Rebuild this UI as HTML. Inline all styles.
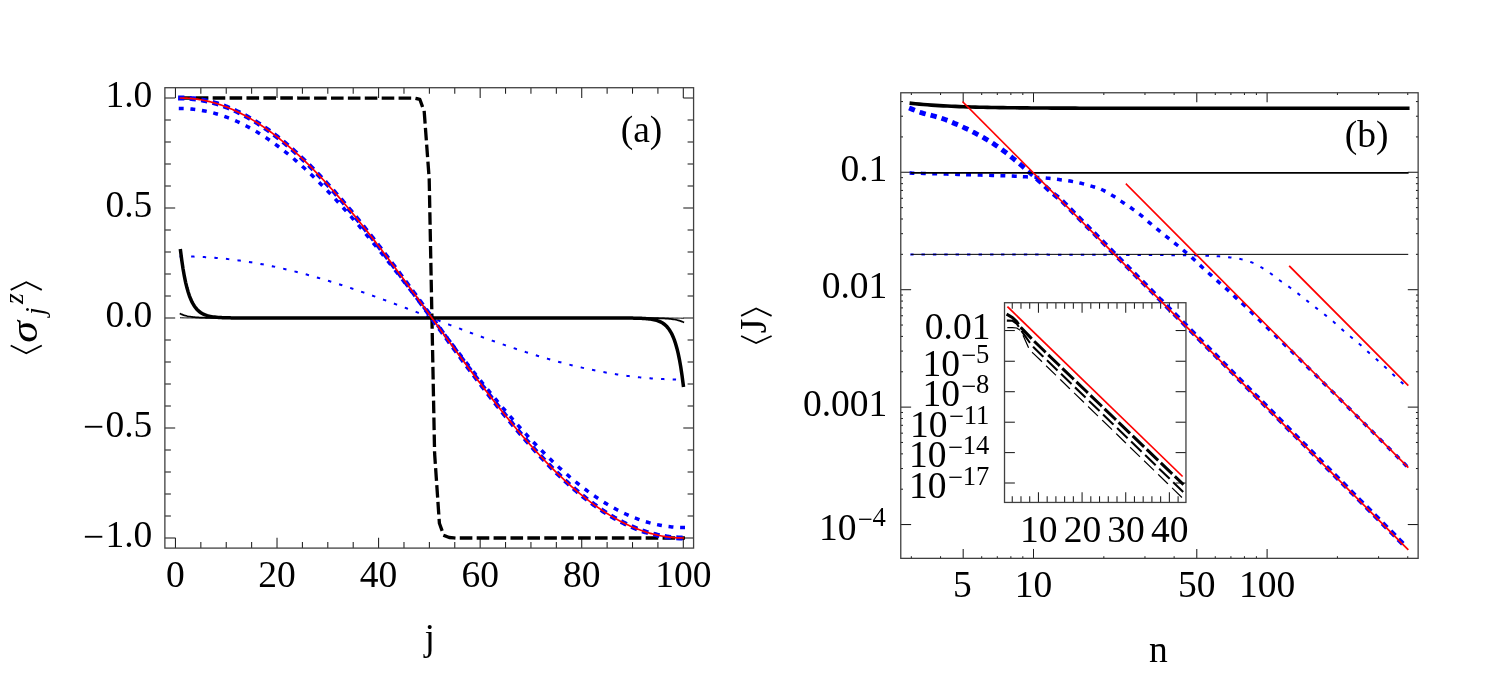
<!DOCTYPE html>
<html lang="en">
<head>
<meta charset="utf-8">
<title>Figure: magnetization profiles and spin current</title>
<style>
html,body{margin:0;padding:0;background:#ffffff;}
body{width:1495px;height:688px;overflow:hidden;font-family:"Liberation Serif",serif;}
svg{display:block;will-change:transform;}
svg text{font-family:"Liberation Serif",serif;fill:#000000;}
</style>
</head>
<body>
<svg width="1495" height="688" viewBox="0 0 1495 688">
<rect x="0" y="0" width="1495" height="688" fill="#ffffff"/>
<line x1="175.45" y1="548.1" x2="175.45" y2="537.8" stroke="#1c1c1c" stroke-width="1.05"/>
<line x1="175.45" y1="87.72" x2="175.45" y2="98.02" stroke="#1c1c1c" stroke-width="1.05"/>
<line x1="200.84" y1="548.1" x2="200.84" y2="542.1" stroke="#1c1c1c" stroke-width="1.05"/>
<line x1="200.84" y1="87.72" x2="200.84" y2="93.72" stroke="#1c1c1c" stroke-width="1.05"/>
<line x1="226.23" y1="548.1" x2="226.23" y2="542.1" stroke="#1c1c1c" stroke-width="1.05"/>
<line x1="226.23" y1="87.72" x2="226.23" y2="93.72" stroke="#1c1c1c" stroke-width="1.05"/>
<line x1="251.63" y1="548.1" x2="251.63" y2="542.1" stroke="#1c1c1c" stroke-width="1.05"/>
<line x1="251.63" y1="87.72" x2="251.63" y2="93.72" stroke="#1c1c1c" stroke-width="1.05"/>
<line x1="277.02" y1="548.1" x2="277.02" y2="537.8" stroke="#1c1c1c" stroke-width="1.05"/>
<line x1="277.02" y1="87.72" x2="277.02" y2="98.02" stroke="#1c1c1c" stroke-width="1.05"/>
<line x1="302.41" y1="548.1" x2="302.41" y2="542.1" stroke="#1c1c1c" stroke-width="1.05"/>
<line x1="302.41" y1="87.72" x2="302.41" y2="93.72" stroke="#1c1c1c" stroke-width="1.05"/>
<line x1="327.8" y1="548.1" x2="327.8" y2="542.1" stroke="#1c1c1c" stroke-width="1.05"/>
<line x1="327.8" y1="87.72" x2="327.8" y2="93.72" stroke="#1c1c1c" stroke-width="1.05"/>
<line x1="353.2" y1="548.1" x2="353.2" y2="542.1" stroke="#1c1c1c" stroke-width="1.05"/>
<line x1="353.2" y1="87.72" x2="353.2" y2="93.72" stroke="#1c1c1c" stroke-width="1.05"/>
<line x1="378.59" y1="548.1" x2="378.59" y2="537.8" stroke="#1c1c1c" stroke-width="1.05"/>
<line x1="378.59" y1="87.72" x2="378.59" y2="98.02" stroke="#1c1c1c" stroke-width="1.05"/>
<line x1="403.98" y1="548.1" x2="403.98" y2="542.1" stroke="#1c1c1c" stroke-width="1.05"/>
<line x1="403.98" y1="87.72" x2="403.98" y2="93.72" stroke="#1c1c1c" stroke-width="1.05"/>
<line x1="429.38" y1="548.1" x2="429.38" y2="542.1" stroke="#1c1c1c" stroke-width="1.05"/>
<line x1="429.38" y1="87.72" x2="429.38" y2="93.72" stroke="#1c1c1c" stroke-width="1.05"/>
<line x1="454.77" y1="548.1" x2="454.77" y2="542.1" stroke="#1c1c1c" stroke-width="1.05"/>
<line x1="454.77" y1="87.72" x2="454.77" y2="93.72" stroke="#1c1c1c" stroke-width="1.05"/>
<line x1="480.16" y1="548.1" x2="480.16" y2="537.8" stroke="#1c1c1c" stroke-width="1.05"/>
<line x1="480.16" y1="87.72" x2="480.16" y2="98.02" stroke="#1c1c1c" stroke-width="1.05"/>
<line x1="505.55" y1="548.1" x2="505.55" y2="542.1" stroke="#1c1c1c" stroke-width="1.05"/>
<line x1="505.55" y1="87.72" x2="505.55" y2="93.72" stroke="#1c1c1c" stroke-width="1.05"/>
<line x1="530.94" y1="548.1" x2="530.94" y2="542.1" stroke="#1c1c1c" stroke-width="1.05"/>
<line x1="530.94" y1="87.72" x2="530.94" y2="93.72" stroke="#1c1c1c" stroke-width="1.05"/>
<line x1="556.34" y1="548.1" x2="556.34" y2="542.1" stroke="#1c1c1c" stroke-width="1.05"/>
<line x1="556.34" y1="87.72" x2="556.34" y2="93.72" stroke="#1c1c1c" stroke-width="1.05"/>
<line x1="581.73" y1="548.1" x2="581.73" y2="537.8" stroke="#1c1c1c" stroke-width="1.05"/>
<line x1="581.73" y1="87.72" x2="581.73" y2="98.02" stroke="#1c1c1c" stroke-width="1.05"/>
<line x1="607.12" y1="548.1" x2="607.12" y2="542.1" stroke="#1c1c1c" stroke-width="1.05"/>
<line x1="607.12" y1="87.72" x2="607.12" y2="93.72" stroke="#1c1c1c" stroke-width="1.05"/>
<line x1="632.51" y1="548.1" x2="632.51" y2="542.1" stroke="#1c1c1c" stroke-width="1.05"/>
<line x1="632.51" y1="87.72" x2="632.51" y2="93.72" stroke="#1c1c1c" stroke-width="1.05"/>
<line x1="657.91" y1="548.1" x2="657.91" y2="542.1" stroke="#1c1c1c" stroke-width="1.05"/>
<line x1="657.91" y1="87.72" x2="657.91" y2="93.72" stroke="#1c1c1c" stroke-width="1.05"/>
<line x1="683.3" y1="548.1" x2="683.3" y2="537.8" stroke="#1c1c1c" stroke-width="1.05"/>
<line x1="683.3" y1="87.72" x2="683.3" y2="98.02" stroke="#1c1c1c" stroke-width="1.05"/>
<line x1="164.88" y1="538" x2="175.18" y2="538" stroke="#1c1c1c" stroke-width="1.05"/>
<line x1="693.58" y1="538" x2="683.28" y2="538" stroke="#1c1c1c" stroke-width="1.05"/>
<line x1="164.88" y1="516" x2="170.88" y2="516" stroke="#1c1c1c" stroke-width="1.05"/>
<line x1="693.58" y1="516" x2="687.58" y2="516" stroke="#1c1c1c" stroke-width="1.05"/>
<line x1="164.88" y1="494" x2="170.88" y2="494" stroke="#1c1c1c" stroke-width="1.05"/>
<line x1="693.58" y1="494" x2="687.58" y2="494" stroke="#1c1c1c" stroke-width="1.05"/>
<line x1="164.88" y1="472" x2="170.88" y2="472" stroke="#1c1c1c" stroke-width="1.05"/>
<line x1="693.58" y1="472" x2="687.58" y2="472" stroke="#1c1c1c" stroke-width="1.05"/>
<line x1="164.88" y1="450" x2="170.88" y2="450" stroke="#1c1c1c" stroke-width="1.05"/>
<line x1="693.58" y1="450" x2="687.58" y2="450" stroke="#1c1c1c" stroke-width="1.05"/>
<line x1="164.88" y1="428" x2="175.18" y2="428" stroke="#1c1c1c" stroke-width="1.05"/>
<line x1="693.58" y1="428" x2="683.28" y2="428" stroke="#1c1c1c" stroke-width="1.05"/>
<line x1="164.88" y1="406" x2="170.88" y2="406" stroke="#1c1c1c" stroke-width="1.05"/>
<line x1="693.58" y1="406" x2="687.58" y2="406" stroke="#1c1c1c" stroke-width="1.05"/>
<line x1="164.88" y1="384" x2="170.88" y2="384" stroke="#1c1c1c" stroke-width="1.05"/>
<line x1="693.58" y1="384" x2="687.58" y2="384" stroke="#1c1c1c" stroke-width="1.05"/>
<line x1="164.88" y1="362" x2="170.88" y2="362" stroke="#1c1c1c" stroke-width="1.05"/>
<line x1="693.58" y1="362" x2="687.58" y2="362" stroke="#1c1c1c" stroke-width="1.05"/>
<line x1="164.88" y1="340" x2="170.88" y2="340" stroke="#1c1c1c" stroke-width="1.05"/>
<line x1="693.58" y1="340" x2="687.58" y2="340" stroke="#1c1c1c" stroke-width="1.05"/>
<line x1="164.88" y1="318" x2="175.18" y2="318" stroke="#1c1c1c" stroke-width="1.05"/>
<line x1="693.58" y1="318" x2="683.28" y2="318" stroke="#1c1c1c" stroke-width="1.05"/>
<line x1="164.88" y1="296" x2="170.88" y2="296" stroke="#1c1c1c" stroke-width="1.05"/>
<line x1="693.58" y1="296" x2="687.58" y2="296" stroke="#1c1c1c" stroke-width="1.05"/>
<line x1="164.88" y1="274" x2="170.88" y2="274" stroke="#1c1c1c" stroke-width="1.05"/>
<line x1="693.58" y1="274" x2="687.58" y2="274" stroke="#1c1c1c" stroke-width="1.05"/>
<line x1="164.88" y1="252" x2="170.88" y2="252" stroke="#1c1c1c" stroke-width="1.05"/>
<line x1="693.58" y1="252" x2="687.58" y2="252" stroke="#1c1c1c" stroke-width="1.05"/>
<line x1="164.88" y1="230" x2="170.88" y2="230" stroke="#1c1c1c" stroke-width="1.05"/>
<line x1="693.58" y1="230" x2="687.58" y2="230" stroke="#1c1c1c" stroke-width="1.05"/>
<line x1="164.88" y1="208" x2="175.18" y2="208" stroke="#1c1c1c" stroke-width="1.05"/>
<line x1="693.58" y1="208" x2="683.28" y2="208" stroke="#1c1c1c" stroke-width="1.05"/>
<line x1="164.88" y1="186" x2="170.88" y2="186" stroke="#1c1c1c" stroke-width="1.05"/>
<line x1="693.58" y1="186" x2="687.58" y2="186" stroke="#1c1c1c" stroke-width="1.05"/>
<line x1="164.88" y1="164" x2="170.88" y2="164" stroke="#1c1c1c" stroke-width="1.05"/>
<line x1="693.58" y1="164" x2="687.58" y2="164" stroke="#1c1c1c" stroke-width="1.05"/>
<line x1="164.88" y1="142" x2="170.88" y2="142" stroke="#1c1c1c" stroke-width="1.05"/>
<line x1="693.58" y1="142" x2="687.58" y2="142" stroke="#1c1c1c" stroke-width="1.05"/>
<line x1="164.88" y1="120" x2="170.88" y2="120" stroke="#1c1c1c" stroke-width="1.05"/>
<line x1="693.58" y1="120" x2="687.58" y2="120" stroke="#1c1c1c" stroke-width="1.05"/>
<line x1="164.88" y1="98" x2="175.18" y2="98" stroke="#1c1c1c" stroke-width="1.05"/>
<line x1="693.58" y1="98" x2="683.28" y2="98" stroke="#1c1c1c" stroke-width="1.05"/>
<rect x="164.88" y="87.72" width="528.7" height="460.38" fill="none" stroke="#404040" stroke-width="1.3"/>
<path d="M180.53 98 L414.1 98.05 L419.8 99.3 L424.2 111.4 L429.2 179 L431.94 318" fill="none" stroke="#000000" stroke-width="3.3" stroke-dasharray="9.3 7.6" stroke-linecap="square" stroke-linejoin="round"/>
<path d="M431.94 318 L434.6 453.2 L439.4 523.3 L443.8 535.4 L449.2 537.5 L454.6 538 L683.3 538" fill="none" stroke="#000000" stroke-width="3.3" stroke-dasharray="9.3 7.6" stroke-linecap="square" stroke-linejoin="round" stroke-dashoffset="0.19"/>
<path d="M180.53 256.4 L181.8 256.4 L183.07 256.41 L184.34 256.42 L185.61 256.43 L186.88 256.45 L188.15 256.47 L189.42 256.49 L190.69 256.52 L191.96 256.56 L193.22 256.59 L194.49 256.63 L195.76 256.68 L197.03 256.73 L198.3 256.78 L199.57 256.84 L200.84 256.9 L202.11 256.96 L203.38 257.03 L204.65 257.1 L205.92 257.17 L207.19 257.25 L208.46 257.34 L209.73 257.42 L211 257.51 L212.27 257.61 L213.54 257.71 L214.81 257.81 L216.08 257.91 L217.35 258.02 L218.62 258.14 L219.89 258.25 L221.16 258.37 L222.43 258.5 L223.7 258.63 L224.97 258.76 L226.23 258.9 L227.5 259.03 L228.77 259.18 L230.04 259.32 L231.31 259.48 L232.58 259.63 L233.85 259.79 L235.12 259.95 L236.39 260.11 L237.66 260.28 L238.93 260.46 L240.2 260.63 L241.47 260.81 L242.74 261 L244.01 261.18 L245.28 261.37 L246.55 261.57 L247.82 261.77 L249.09 261.97 L250.36 262.17 L251.63 262.38 L252.9 262.59 L254.17 262.81 L255.44 263.03 L256.71 263.25 L257.98 263.47 L259.25 263.7 L260.51 263.93 L261.78 264.17 L263.05 264.41 L264.32 264.65 L265.59 264.9 L266.86 265.15 L268.13 265.4 L269.4 265.66 L270.67 265.92 L271.94 266.18 L273.21 266.44 L274.48 266.71 L275.75 266.99 L277.02 267.26 L278.29 267.54 L279.56 267.82 L280.83 268.11 L282.1 268.4 L283.37 268.69 L284.64 268.98 L285.91 269.28 L287.18 269.58 L288.45 269.88 L289.72 270.19 L290.99 270.5 L292.26 270.81 L293.53 271.13 L294.79 271.45 L296.06 271.77 L297.33 272.09 L298.6 272.42 L299.87 272.75 L301.14 273.08 L302.41 273.42 L303.68 273.76 L304.95 274.1 L306.22 274.44 L307.49 274.79 L308.76 275.14 L310.03 275.49 L311.3 275.85 L312.57 276.2 L313.84 276.56 L315.11 276.93 L316.38 277.29 L317.65 277.66 L318.92 278.03 L320.19 278.4 L321.46 278.78 L322.73 279.16 L324 279.54 L325.27 279.92 L326.54 280.31 L327.8 280.69 L329.07 281.08 L330.34 281.48 L331.61 281.87 L332.88 282.27 L334.15 282.67 L335.42 283.07 L336.69 283.47 L337.96 283.88 L339.23 284.29 L340.5 284.7 L341.77 285.11 L343.04 285.52 L344.31 285.94 L345.58 286.36 L346.85 286.78 L348.12 287.2 L349.39 287.62 L350.66 288.05 L351.93 288.48 L353.2 288.91 L354.47 289.34 L355.74 289.77 L357.01 290.21 L358.28 290.65 L359.55 291.08 L360.82 291.52 L362.08 291.97 L363.35 292.41 L364.62 292.86 L365.89 293.3 L367.16 293.75 L368.43 294.2 L369.7 294.65 L370.97 295.11 L372.24 295.56 L373.51 296.02 L374.78 296.47 L376.05 296.93 L377.32 297.39 L378.59 297.85 L379.86 298.32 L381.13 298.78 L382.4 299.24 L383.67 299.71 L384.94 300.18 L386.21 300.65 L387.48 301.11 L388.75 301.59 L390.02 302.06 L391.29 302.53 L392.56 303 L393.83 303.48 L395.1 303.95 L396.36 304.43 L397.63 304.91 L398.9 305.38 L400.17 305.86 L401.44 306.34 L402.71 306.82 L403.98 307.3 L405.25 307.78 L406.52 308.27 L407.79 308.75 L409.06 309.23 L410.33 309.72 L411.6 310.2 L412.87 310.69 L414.14 311.17 L415.41 311.66 L416.68 312.14 L417.95 312.63 L419.22 313.12 L420.49 313.61 L421.76 314.09 L423.03 314.58 L424.3 315.07 L425.57 315.56 L426.84 316.05 L428.11 316.53 L429.38 317.02 L430.64 317.51 L431.91 318 L433.18 318.49 L434.45 318.98 L435.72 319.47 L436.99 319.95 L438.26 320.44 L439.53 320.93 L440.8 321.42 L442.07 321.91 L443.34 322.39 L444.61 322.88 L445.88 323.37 L447.15 323.86 L448.42 324.34 L449.69 324.83 L450.96 325.31 L452.23 325.8 L453.5 326.28 L454.77 326.77 L456.04 327.25 L457.31 327.73 L458.58 328.22 L459.85 328.7 L461.12 329.18 L462.39 329.66 L463.65 330.14 L464.92 330.62 L466.19 331.09 L467.46 331.57 L468.73 332.05 L470 332.52 L471.27 333 L472.54 333.47 L473.81 333.94 L475.08 334.41 L476.35 334.89 L477.62 335.35 L478.89 335.82 L480.16 336.29 L481.43 336.76 L482.7 337.22 L483.97 337.68 L485.24 338.15 L486.51 338.61 L487.78 339.07 L489.05 339.53 L490.32 339.98 L491.59 340.44 L492.86 340.89 L494.13 341.35 L495.4 341.8 L496.67 342.25 L497.93 342.7 L499.2 343.14 L500.47 343.59 L501.74 344.03 L503.01 344.48 L504.28 344.92 L505.55 345.35 L506.82 345.79 L508.09 346.23 L509.36 346.66 L510.63 347.09 L511.9 347.52 L513.17 347.95 L514.44 348.38 L515.71 348.8 L516.98 349.22 L518.25 349.64 L519.52 350.06 L520.79 350.48 L522.06 350.89 L523.33 351.3 L524.6 351.71 L525.87 352.12 L527.14 352.53 L528.41 352.93 L529.68 353.33 L530.94 353.73 L532.21 354.13 L533.48 354.52 L534.75 354.92 L536.02 355.31 L537.29 355.69 L538.56 356.08 L539.83 356.46 L541.1 356.84 L542.37 357.22 L543.64 357.6 L544.91 357.97 L546.18 358.34 L547.45 358.71 L548.72 359.07 L549.99 359.44 L551.26 359.8 L552.53 360.15 L553.8 360.51 L555.07 360.86 L556.34 361.21 L557.61 361.56 L558.88 361.9 L560.15 362.24 L561.42 362.58 L562.69 362.92 L563.96 363.25 L565.22 363.58 L566.49 363.91 L567.76 364.23 L569.03 364.55 L570.3 364.87 L571.57 365.19 L572.84 365.5 L574.11 365.81 L575.38 366.12 L576.65 366.42 L577.92 366.72 L579.19 367.02 L580.46 367.31 L581.73 367.6 L583 367.89 L584.27 368.18 L585.54 368.46 L586.81 368.74 L588.08 369.01 L589.35 369.29 L590.62 369.56 L591.89 369.82 L593.16 370.08 L594.43 370.34 L595.7 370.6 L596.97 370.85 L598.24 371.1 L599.5 371.35 L600.77 371.59 L602.04 371.83 L603.31 372.07 L604.58 372.3 L605.85 372.53 L607.12 372.75 L608.39 372.97 L609.66 373.19 L610.93 373.41 L612.2 373.62 L613.47 373.83 L614.74 374.03 L616.01 374.23 L617.28 374.43 L618.55 374.63 L619.82 374.82 L621.09 375 L622.36 375.19 L623.63 375.37 L624.9 375.54 L626.17 375.72 L627.44 375.89 L628.71 376.05 L629.98 376.21 L631.25 376.37 L632.51 376.52 L633.78 376.68 L635.05 376.82 L636.32 376.97 L637.59 377.1 L638.86 377.24 L640.13 377.37 L641.4 377.5 L642.67 377.63 L643.94 377.75 L645.21 377.86 L646.48 377.98 L647.75 378.09 L649.02 378.19 L650.29 378.29 L651.56 378.39 L652.83 378.49 L654.1 378.58 L655.37 378.66 L656.64 378.75 L657.91 378.83 L659.18 378.9 L660.45 378.97 L661.72 379.04 L662.99 379.1 L664.26 379.16 L665.53 379.22 L666.79 379.27 L668.06 379.32 L669.33 379.37 L670.6 379.41 L671.87 379.44 L673.14 379.48 L674.41 379.51 L675.68 379.53 L676.95 379.55 L678.22 379.57 L679.49 379.58 L680.76 379.59 L682.03 379.6 L683.3 379.6" fill="none" stroke="#0000ff" stroke-width="2" stroke-dasharray="1.4 10.22" stroke-linecap="square"/>
<path d="M180.53 108.56 L181.8 108.57 L183.07 108.59 L184.34 108.62 L185.61 108.67 L186.88 108.72 L188.15 108.8 L189.42 108.88 L190.69 108.98 L191.96 109.09 L193.22 109.22 L194.49 109.36 L195.76 109.51 L197.03 109.67 L198.3 109.85 L199.57 110.04 L200.84 110.24 L202.11 110.46 L203.38 110.69 L204.65 110.93 L205.92 111.19 L207.19 111.46 L208.46 111.74 L209.73 112.04 L211 112.34 L212.27 112.67 L213.54 113 L214.81 113.35 L216.08 113.71 L217.35 114.08 L218.62 114.46 L219.89 114.86 L221.16 115.27 L222.43 115.7 L223.7 116.13 L224.97 116.58 L226.23 117.04 L227.5 117.52 L228.77 118.01 L230.04 118.5 L231.31 119.02 L232.58 119.54 L233.85 120.08 L235.12 120.63 L236.39 121.19 L237.66 121.77 L238.93 122.35 L240.2 122.95 L241.47 123.56 L242.74 124.19 L244.01 124.82 L245.28 125.47 L246.55 126.13 L247.82 126.8 L249.09 127.49 L250.36 128.18 L251.63 128.89 L252.9 129.61 L254.17 130.34 L255.44 131.09 L256.71 131.84 L257.98 132.61 L259.25 133.39 L260.51 134.18 L261.78 134.98 L263.05 135.79 L264.32 136.62 L265.59 137.46 L266.86 138.3 L268.13 139.16 L269.4 140.03 L270.67 140.92 L271.94 141.81 L273.21 142.71 L274.48 143.63 L275.75 144.55 L277.02 145.49 L278.29 146.44 L279.56 147.4 L280.83 148.36 L282.1 149.34 L283.37 150.33 L284.64 151.34 L285.91 152.35 L287.18 153.37 L288.45 154.4 L289.72 155.44 L290.99 156.5 L292.26 157.56 L293.53 158.63 L294.79 159.72 L296.06 160.81 L297.33 161.91 L298.6 163.02 L299.87 164.15 L301.14 165.28 L302.41 166.42 L303.68 167.57 L304.95 168.73 L306.22 169.9 L307.49 171.08 L308.76 172.27 L310.03 173.47 L311.3 174.68 L312.57 175.89 L313.84 177.12 L315.11 178.35 L316.38 179.59 L317.65 180.85 L318.92 182.11 L320.19 183.37 L321.46 184.65 L322.73 185.94 L324 187.23 L325.27 188.53 L326.54 189.84 L327.8 191.16 L329.07 192.49 L330.34 193.82 L331.61 195.16 L332.88 196.51 L334.15 197.87 L335.42 199.23 L336.69 200.61 L337.96 201.99 L339.23 203.37 L340.5 204.77 L341.77 206.17 L343.04 207.58 L344.31 208.99 L345.58 210.42 L346.85 211.84 L348.12 213.28 L349.39 214.72 L350.66 216.17 L351.93 217.63 L353.2 219.09 L354.47 220.56 L355.74 222.03 L357.01 223.51 L358.28 224.99 L359.55 226.49 L360.82 227.98 L362.08 229.49 L363.35 231 L364.62 232.51 L365.89 234.03 L367.16 235.55 L368.43 237.08 L369.7 238.62 L370.97 240.16 L372.24 241.7 L373.51 243.25 L374.78 244.81 L376.05 246.37 L377.32 247.93 L378.59 249.5 L379.86 251.07 L381.13 252.65 L382.4 254.23 L383.67 255.81 L384.94 257.4 L386.21 258.99 L387.48 260.59 L388.75 262.19 L390.02 263.79 L391.29 265.4 L392.56 267.01 L393.83 268.62 L395.1 270.24 L396.36 271.86 L397.63 273.48 L398.9 275.11 L400.17 276.73 L401.44 278.36 L402.71 280 L403.98 281.63 L405.25 283.27 L406.52 284.91 L407.79 286.55 L409.06 288.19 L410.33 289.84 L411.6 291.49 L412.87 293.14 L414.14 294.79 L415.41 296.44 L416.68 298.09 L417.95 299.75 L419.22 301.4 L420.49 303.06 L421.76 304.72 L423.03 306.38 L424.3 308.03 L425.57 309.69 L426.84 311.35 L428.11 313.02 L429.38 314.68 L430.64 316.34 L431.91 318 L433.18 319.66 L434.45 321.32 L435.72 322.98 L436.99 324.65 L438.26 326.31 L439.53 327.97 L440.8 329.62 L442.07 331.28 L443.34 332.94 L444.61 334.6 L445.88 336.25 L447.15 337.91 L448.42 339.56 L449.69 341.21 L450.96 342.86 L452.23 344.51 L453.5 346.16 L454.77 347.81 L456.04 349.45 L457.31 351.09 L458.58 352.73 L459.85 354.37 L461.12 356 L462.39 357.64 L463.65 359.27 L464.92 360.89 L466.19 362.52 L467.46 364.14 L468.73 365.76 L470 367.38 L471.27 368.99 L472.54 370.6 L473.81 372.21 L475.08 373.81 L476.35 375.41 L477.62 377.01 L478.89 378.6 L480.16 380.19 L481.43 381.77 L482.7 383.35 L483.97 384.93 L485.24 386.5 L486.51 388.07 L487.78 389.63 L489.05 391.19 L490.32 392.75 L491.59 394.3 L492.86 395.84 L494.13 397.38 L495.4 398.92 L496.67 400.45 L497.93 401.97 L499.2 403.49 L500.47 405 L501.74 406.51 L503.01 408.02 L504.28 409.51 L505.55 411.01 L506.82 412.49 L508.09 413.97 L509.36 415.44 L510.63 416.91 L511.9 418.37 L513.17 419.83 L514.44 421.28 L515.71 422.72 L516.98 424.16 L518.25 425.58 L519.52 427.01 L520.79 428.42 L522.06 429.83 L523.33 431.23 L524.6 432.63 L525.87 434.01 L527.14 435.39 L528.41 436.77 L529.68 438.13 L530.94 439.49 L532.21 440.84 L533.48 442.18 L534.75 443.51 L536.02 444.84 L537.29 446.16 L538.56 447.47 L539.83 448.77 L541.1 450.06 L542.37 451.35 L543.64 452.63 L544.91 453.89 L546.18 455.15 L547.45 456.41 L548.72 457.65 L549.99 458.88 L551.26 460.11 L552.53 461.32 L553.8 462.53 L555.07 463.73 L556.34 464.92 L557.61 466.1 L558.88 467.27 L560.15 468.43 L561.42 469.58 L562.69 470.72 L563.96 471.85 L565.22 472.98 L566.49 474.09 L567.76 475.19 L569.03 476.28 L570.3 477.37 L571.57 478.44 L572.84 479.5 L574.11 480.56 L575.38 481.6 L576.65 482.63 L577.92 483.65 L579.19 484.66 L580.46 485.67 L581.73 486.66 L583 487.64 L584.27 488.6 L585.54 489.56 L586.81 490.51 L588.08 491.45 L589.35 492.37 L590.62 493.29 L591.89 494.19 L593.16 495.08 L594.43 495.97 L595.7 496.84 L596.97 497.7 L598.24 498.54 L599.5 499.38 L600.77 500.21 L602.04 501.02 L603.31 501.82 L604.58 502.61 L605.85 503.39 L607.12 504.16 L608.39 504.91 L609.66 505.66 L610.93 506.39 L612.2 507.11 L613.47 507.82 L614.74 508.51 L616.01 509.2 L617.28 509.87 L618.55 510.53 L619.82 511.18 L621.09 511.81 L622.36 512.44 L623.63 513.05 L624.9 513.65 L626.17 514.23 L627.44 514.81 L628.71 515.37 L629.98 515.92 L631.25 516.46 L632.51 516.98 L633.78 517.5 L635.05 517.99 L636.32 518.48 L637.59 518.96 L638.86 519.42 L640.13 519.87 L641.4 520.3 L642.67 520.73 L643.94 521.14 L645.21 521.54 L646.48 521.92 L647.75 522.29 L649.02 522.65 L650.29 523 L651.56 523.33 L652.83 523.66 L654.1 523.96 L655.37 524.26 L656.64 524.54 L657.91 524.81 L659.18 525.07 L660.45 525.31 L661.72 525.54 L662.99 525.76 L664.26 525.96 L665.53 526.15 L666.79 526.33 L668.06 526.49 L669.33 526.64 L670.6 526.78 L671.87 526.91 L673.14 527.02 L674.41 527.12 L675.68 527.2 L676.95 527.28 L678.22 527.33 L679.49 527.38 L680.76 527.41 L682.03 527.43 L683.3 527.44" fill="none" stroke="#0000ff" stroke-width="3.5" stroke-dasharray="1.4 10.22" stroke-linecap="square"/>
<path d="M180.53 98 L181.8 98.01 L183.07 98.03 L184.34 98.06 L185.61 98.11 L186.88 98.17 L188.15 98.25 L189.42 98.34 L190.69 98.44 L191.96 98.56 L193.22 98.69 L194.49 98.84 L195.76 99 L197.03 99.17 L198.3 99.36 L199.57 99.56 L200.84 99.77 L202.11 100 L203.38 100.24 L204.65 100.49 L205.92 100.76 L207.19 101.05 L208.46 101.34 L209.73 101.65 L211 101.98 L212.27 102.31 L213.54 102.66 L214.81 103.03 L216.08 103.41 L217.35 103.8 L218.62 104.2 L219.89 104.62 L221.16 105.05 L222.43 105.5 L223.7 105.95 L224.97 106.43 L226.23 106.91 L227.5 107.41 L228.77 107.92 L230.04 108.45 L231.31 108.98 L232.58 109.54 L233.85 110.1 L235.12 110.68 L236.39 111.27 L237.66 111.87 L238.93 112.49 L240.2 113.12 L241.47 113.76 L242.74 114.41 L244.01 115.08 L245.28 115.76 L246.55 116.46 L247.82 117.16 L249.09 117.88 L250.36 118.61 L251.63 119.36 L252.9 120.11 L254.17 120.88 L255.44 121.66 L256.71 122.46 L257.98 123.26 L259.25 124.08 L260.51 124.91 L261.78 125.75 L263.05 126.61 L264.32 127.47 L265.59 128.35 L266.86 129.24 L268.13 130.15 L269.4 131.06 L270.67 131.99 L271.94 132.92 L273.21 133.87 L274.48 134.83 L275.75 135.81 L277.02 136.79 L278.29 137.79 L279.56 138.79 L280.83 139.81 L282.1 140.84 L283.37 141.88 L284.64 142.93 L285.91 143.99 L287.18 145.07 L288.45 146.15 L289.72 147.25 L290.99 148.35 L292.26 149.47 L293.53 150.6 L294.79 151.74 L296.06 152.88 L297.33 154.04 L298.6 155.21 L299.87 156.39 L301.14 157.58 L302.41 158.78 L303.68 159.99 L304.95 161.21 L306.22 162.44 L307.49 163.68 L308.76 164.92 L310.03 166.18 L311.3 167.45 L312.57 168.73 L313.84 170.01 L315.11 171.31 L316.38 172.62 L317.65 173.93 L318.92 175.25 L320.19 176.59 L321.46 177.93 L322.73 179.28 L324 180.64 L325.27 182.01 L326.54 183.38 L327.8 184.77 L329.07 186.16 L330.34 187.56 L331.61 188.97 L332.88 190.39 L334.15 191.81 L335.42 193.25 L336.69 194.69 L337.96 196.14 L339.23 197.59 L340.5 199.06 L341.77 200.53 L343.04 202.01 L344.31 203.5 L345.58 204.99 L346.85 206.49 L348.12 208 L349.39 209.51 L350.66 211.04 L351.93 212.57 L353.2 214.1 L354.47 215.64 L355.74 217.19 L357.01 218.74 L358.28 220.31 L359.55 221.87 L360.82 223.45 L362.08 225.02 L363.35 226.61 L364.62 228.2 L365.89 229.8 L367.16 231.4 L368.43 233 L369.7 234.62 L370.97 236.23 L372.24 237.86 L373.51 239.49 L374.78 241.12 L376.05 242.76 L377.32 244.4 L378.59 246.05 L379.86 247.7 L381.13 249.35 L382.4 251.01 L383.67 252.68 L384.94 254.35 L386.21 256.02 L387.48 257.7 L388.75 259.38 L390.02 261.06 L391.29 262.75 L392.56 264.44 L393.83 266.13 L395.1 267.83 L396.36 269.53 L397.63 271.24 L398.9 272.94 L400.17 274.65 L401.44 276.36 L402.71 278.08 L403.98 279.8 L405.25 281.52 L406.52 283.24 L407.79 284.96 L409.06 286.69 L410.33 288.42 L411.6 290.15 L412.87 291.88 L414.14 293.62 L415.41 295.35 L416.68 297.09 L417.95 298.83 L419.22 300.57 L420.49 302.31 L421.76 304.05 L423.03 305.79 L424.3 307.53 L425.57 309.28 L426.84 311.02 L428.11 312.76 L429.38 314.51 L430.64 316.25 L431.91 318 L433.18 319.75 L434.45 321.49 L435.72 323.24 L436.99 324.98 L438.26 326.72 L439.53 328.47 L440.8 330.21 L442.07 331.95 L443.34 333.69 L444.61 335.43 L445.88 337.17 L447.15 338.91 L448.42 340.65 L449.69 342.38 L450.96 344.12 L452.23 345.85 L453.5 347.58 L454.77 349.31 L456.04 351.04 L457.31 352.76 L458.58 354.48 L459.85 356.2 L461.12 357.92 L462.39 359.64 L463.65 361.35 L464.92 363.06 L466.19 364.76 L467.46 366.47 L468.73 368.17 L470 369.87 L471.27 371.56 L472.54 373.25 L473.81 374.94 L475.08 376.62 L476.35 378.3 L477.62 379.98 L478.89 381.65 L480.16 383.32 L481.43 384.99 L482.7 386.65 L483.97 388.3 L485.24 389.95 L486.51 391.6 L487.78 393.24 L489.05 394.88 L490.32 396.51 L491.59 398.14 L492.86 399.77 L494.13 401.38 L495.4 403 L496.67 404.6 L497.93 406.2 L499.2 407.8 L500.47 409.39 L501.74 410.98 L503.01 412.55 L504.28 414.13 L505.55 415.69 L506.82 417.26 L508.09 418.81 L509.36 420.36 L510.63 421.9 L511.9 423.43 L513.17 424.96 L514.44 426.49 L515.71 428 L516.98 429.51 L518.25 431.01 L519.52 432.5 L520.79 433.99 L522.06 435.47 L523.33 436.94 L524.6 438.41 L525.87 439.86 L527.14 441.31 L528.41 442.75 L529.68 444.19 L530.94 445.61 L532.21 447.03 L533.48 448.44 L534.75 449.84 L536.02 451.23 L537.29 452.62 L538.56 453.99 L539.83 455.36 L541.1 456.72 L542.37 458.07 L543.64 459.41 L544.91 460.75 L546.18 462.07 L547.45 463.38 L548.72 464.69 L549.99 465.99 L551.26 467.27 L552.53 468.55 L553.8 469.82 L555.07 471.08 L556.34 472.32 L557.61 473.56 L558.88 474.79 L560.15 476.01 L561.42 477.22 L562.69 478.42 L563.96 479.61 L565.22 480.79 L566.49 481.96 L567.76 483.12 L569.03 484.26 L570.3 485.4 L571.57 486.53 L572.84 487.65 L574.11 488.75 L575.38 489.85 L576.65 490.93 L577.92 492.01 L579.19 493.07 L580.46 494.12 L581.73 495.16 L583 496.19 L584.27 497.21 L585.54 498.21 L586.81 499.21 L588.08 500.19 L589.35 501.17 L590.62 502.13 L591.89 503.08 L593.16 504.01 L594.43 504.94 L595.7 505.85 L596.97 506.76 L598.24 507.65 L599.5 508.53 L600.77 509.39 L602.04 510.25 L603.31 511.09 L604.58 511.92 L605.85 512.74 L607.12 513.54 L608.39 514.34 L609.66 515.12 L610.93 515.89 L612.2 516.64 L613.47 517.39 L614.74 518.12 L616.01 518.84 L617.28 519.54 L618.55 520.24 L619.82 520.92 L621.09 521.59 L622.36 522.24 L623.63 522.88 L624.9 523.51 L626.17 524.13 L627.44 524.73 L628.71 525.32 L629.98 525.9 L631.25 526.46 L632.51 527.02 L633.78 527.55 L635.05 528.08 L636.32 528.59 L637.59 529.09 L638.86 529.57 L640.13 530.05 L641.4 530.5 L642.67 530.95 L643.94 531.38 L645.21 531.8 L646.48 532.2 L647.75 532.59 L649.02 532.97 L650.29 533.34 L651.56 533.69 L652.83 534.02 L654.1 534.35 L655.37 534.66 L656.64 534.95 L657.91 535.24 L659.18 535.51 L660.45 535.76 L661.72 536 L662.99 536.23 L664.26 536.44 L665.53 536.64 L666.79 536.83 L668.06 537 L669.33 537.16 L670.6 537.31 L671.87 537.44 L673.14 537.56 L674.41 537.66 L675.68 537.75 L676.95 537.83 L678.22 537.89 L679.49 537.94 L680.76 537.97 L682.03 537.99 L683.3 538" fill="none" stroke="#0000ff" stroke-width="4.9" stroke-dasharray="1.4 10.22" stroke-linecap="square"/>
<path d="M180.53 317.78 L181.8 317.81 L183.07 317.84 L184.34 317.86 L185.61 317.88 L186.88 317.9 L188.15 317.91 L189.42 317.92 L190.69 317.93 L191.96 317.94 L193.22 317.95 L194.49 317.96 L195.76 317.96 L197.03 317.97 L198.3 317.97 L199.57 317.98 L200.84 317.98 L202.11 317.98 L203.38 317.99 L204.65 317.99 L205.92 317.99 L207.19 317.99 L208.46 317.99 L209.73 317.99 L211 317.99 L212.27 317.99 L213.54 318 L214.81 318 L216.08 318 L217.35 318 L218.62 318 L219.89 318 L221.16 318 L222.43 318 L223.7 318 L224.97 318 L226.23 318 L227.5 318 L228.77 318 L230.04 318 L231.31 318 L232.58 318 L233.85 318 L235.12 318 L236.39 318 L237.66 318 L238.93 318 L240.2 318 L241.47 318 L242.74 318 L244.01 318 L245.28 318 L246.55 318 L247.82 318 L249.09 318 L250.36 318 L251.63 318 L252.9 318 L254.17 318 L255.44 318 L256.71 318 L257.98 318 L259.25 318 L260.51 318 L261.78 318 L263.05 318 L264.32 318 L265.59 318 L266.86 318 L268.13 318 L269.4 318 L270.67 318 L271.94 318 L273.21 318 L274.48 318 L275.75 318 L277.02 318 L278.29 318 L279.56 318 L280.83 318 L282.1 318 L283.37 318 L284.64 318 L285.91 318 L287.18 318 L288.45 318 L289.72 318 L290.99 318 L292.26 318 L293.53 318 L294.79 318 L296.06 318 L297.33 318 L298.6 318 L299.87 318 L301.14 318 L302.41 318 L303.68 318 L304.95 318 L306.22 318 L307.49 318 L308.76 318 L310.03 318 L311.3 318 L312.57 318 L313.84 318 L315.11 318 L316.38 318 L317.65 318 L318.92 318 L320.19 318 L321.46 318 L322.73 318 L324 318 L325.27 318 L326.54 318 L327.8 318 L329.07 318 L330.34 318 L331.61 318 L332.88 318 L334.15 318 L335.42 318 L336.69 318 L337.96 318 L339.23 318 L340.5 318 L341.77 318 L343.04 318 L344.31 318 L345.58 318 L346.85 318 L348.12 318 L349.39 318 L350.66 318 L351.93 318 L353.2 318 L354.47 318 L355.74 318 L357.01 318 L358.28 318 L359.55 318 L360.82 318 L362.08 318 L363.35 318 L364.62 318 L365.89 318 L367.16 318 L368.43 318 L369.7 318 L370.97 318 L372.24 318 L373.51 318 L374.78 318 L376.05 318 L377.32 318 L378.59 318 L379.86 318 L381.13 318 L382.4 318 L383.67 318 L384.94 318 L386.21 318 L387.48 318 L388.75 318 L390.02 318 L391.29 318 L392.56 318 L393.83 318 L395.1 318 L396.36 318 L397.63 318 L398.9 318 L400.17 318 L401.44 318 L402.71 318 L403.98 318 L405.25 318 L406.52 318 L407.79 318 L409.06 318 L410.33 318 L411.6 318 L412.87 318 L414.14 318 L415.41 318 L416.68 318 L417.95 318 L419.22 318 L420.49 318 L421.76 318 L423.03 318 L424.3 318 L425.57 318 L426.84 318 L428.11 318 L429.38 318 L430.64 318 L431.91 318 L433.18 318 L434.45 318 L435.72 318 L436.99 318 L438.26 318 L439.53 318 L440.8 318 L442.07 318 L443.34 318 L444.61 318 L445.88 318 L447.15 318 L448.42 318 L449.69 318 L450.96 318 L452.23 318 L453.5 318 L454.77 318 L456.04 318 L457.31 318 L458.58 318 L459.85 318 L461.12 318 L462.39 318 L463.65 318 L464.92 318 L466.19 318 L467.46 318 L468.73 318 L470 318 L471.27 318 L472.54 318 L473.81 318 L475.08 318 L476.35 318 L477.62 318 L478.89 318 L480.16 318 L481.43 318 L482.7 318 L483.97 318 L485.24 318 L486.51 318 L487.78 318 L489.05 318 L490.32 318 L491.59 318 L492.86 318 L494.13 318 L495.4 318 L496.67 318 L497.93 318 L499.2 318 L500.47 318 L501.74 318 L503.01 318 L504.28 318 L505.55 318 L506.82 318 L508.09 318 L509.36 318 L510.63 318 L511.9 318 L513.17 318 L514.44 318 L515.71 318 L516.98 318 L518.25 318 L519.52 318 L520.79 318 L522.06 318 L523.33 318 L524.6 318 L525.87 318 L527.14 318 L528.41 318 L529.68 318 L530.94 318 L532.21 318 L533.48 318 L534.75 318 L536.02 318 L537.29 318 L538.56 318 L539.83 318 L541.1 318 L542.37 318 L543.64 318 L544.91 318 L546.18 318 L547.45 318 L548.72 318 L549.99 318 L551.26 318 L552.53 318 L553.8 318 L555.07 318 L556.34 318 L557.61 318 L558.88 318 L560.15 318 L561.42 318 L562.69 318 L563.96 318 L565.22 318 L566.49 318 L567.76 318 L569.03 318 L570.3 318 L571.57 318 L572.84 318 L574.11 318 L575.38 318 L576.65 318 L577.92 318 L579.19 318 L580.46 318 L581.73 318 L583 318 L584.27 318 L585.54 318 L586.81 318 L588.08 318 L589.35 318 L590.62 318 L591.89 318 L593.16 318 L594.43 318 L595.7 318 L596.97 318 L598.24 318 L599.5 318 L600.77 318 L602.04 318 L603.31 318 L604.58 318 L605.85 318 L607.12 318 L608.39 318 L609.66 318 L610.93 318 L612.2 318 L613.47 318 L614.74 318 L616.01 318 L617.28 318 L618.55 318 L619.82 318 L621.09 318 L622.36 318 L623.63 318 L624.9 318 L626.17 318 L627.44 318 L628.71 318 L629.98 318 L631.25 318 L632.51 318 L633.78 318 L635.05 318 L636.32 318 L637.59 318 L638.86 318 L640.13 318 L641.4 318 L642.67 318 L643.94 318 L645.21 318 L646.48 318 L647.75 318 L649.02 318 L650.29 318 L651.56 318.01 L652.83 318.01 L654.1 318.01 L655.37 318.01 L656.64 318.01 L657.91 318.01 L659.18 318.01 L660.45 318.01 L661.72 318.02 L662.99 318.02 L664.26 318.02 L665.53 318.03 L666.79 318.03 L668.06 318.04 L669.33 318.04 L670.6 318.05 L671.87 318.06 L673.14 318.07 L674.41 318.08 L675.68 318.09 L676.95 318.1 L678.22 318.12 L679.49 318.14 L680.76 318.16 L682.03 318.19 L683.3 318.22" fill="none" stroke="#000000" stroke-width="1" stroke-linecap="square"/>
<path d="M180.53 313.89 L181.8 314.44 L183.07 314.92 L184.34 315.34 L185.61 315.7 L186.88 316.01 L188.15 316.28 L189.42 316.51 L190.69 316.71 L191.96 316.88 L193.22 317.03 L194.49 317.16 L195.76 317.28 L197.03 317.38 L198.3 317.46 L199.57 317.53 L200.84 317.6 L202.11 317.65 L203.38 317.7 L204.65 317.74 L205.92 317.77 L207.19 317.8 L208.46 317.83 L209.73 317.85 L211 317.87 L212.27 317.89 L213.54 317.91 L214.81 317.92 L216.08 317.93 L217.35 317.94 L218.62 317.95 L219.89 317.95 L221.16 317.96 L222.43 317.97 L223.7 317.97 L224.97 317.97 L226.23 317.98 L227.5 317.98 L228.77 317.98 L230.04 317.99 L231.31 317.99 L232.58 317.99 L233.85 317.99 L235.12 317.99 L236.39 317.99 L237.66 317.99 L238.93 317.99 L240.2 318 L241.47 318 L242.74 318 L244.01 318 L245.28 318 L246.55 318 L247.82 318 L249.09 318 L250.36 318 L251.63 318 L252.9 318 L254.17 318 L255.44 318 L256.71 318 L257.98 318 L259.25 318 L260.51 318 L261.78 318 L263.05 318 L264.32 318 L265.59 318 L266.86 318 L268.13 318 L269.4 318 L270.67 318 L271.94 318 L273.21 318 L274.48 318 L275.75 318 L277.02 318 L278.29 318 L279.56 318 L280.83 318 L282.1 318 L283.37 318 L284.64 318 L285.91 318 L287.18 318 L288.45 318 L289.72 318 L290.99 318 L292.26 318 L293.53 318 L294.79 318 L296.06 318 L297.33 318 L298.6 318 L299.87 318 L301.14 318 L302.41 318 L303.68 318 L304.95 318 L306.22 318 L307.49 318 L308.76 318 L310.03 318 L311.3 318 L312.57 318 L313.84 318 L315.11 318 L316.38 318 L317.65 318 L318.92 318 L320.19 318 L321.46 318 L322.73 318 L324 318 L325.27 318 L326.54 318 L327.8 318 L329.07 318 L330.34 318 L331.61 318 L332.88 318 L334.15 318 L335.42 318 L336.69 318 L337.96 318 L339.23 318 L340.5 318 L341.77 318 L343.04 318 L344.31 318 L345.58 318 L346.85 318 L348.12 318 L349.39 318 L350.66 318 L351.93 318 L353.2 318 L354.47 318 L355.74 318 L357.01 318 L358.28 318 L359.55 318 L360.82 318 L362.08 318 L363.35 318 L364.62 318 L365.89 318 L367.16 318 L368.43 318 L369.7 318 L370.97 318 L372.24 318 L373.51 318 L374.78 318 L376.05 318 L377.32 318 L378.59 318 L379.86 318 L381.13 318 L382.4 318 L383.67 318 L384.94 318 L386.21 318 L387.48 318 L388.75 318 L390.02 318 L391.29 318 L392.56 318 L393.83 318 L395.1 318 L396.36 318 L397.63 318 L398.9 318 L400.17 318 L401.44 318 L402.71 318 L403.98 318 L405.25 318 L406.52 318 L407.79 318 L409.06 318 L410.33 318 L411.6 318 L412.87 318 L414.14 318 L415.41 318 L416.68 318 L417.95 318 L419.22 318 L420.49 318 L421.76 318 L423.03 318 L424.3 318 L425.57 318 L426.84 318 L428.11 318 L429.38 318 L430.64 318 L431.91 318 L433.18 318 L434.45 318 L435.72 318 L436.99 318 L438.26 318 L439.53 318 L440.8 318 L442.07 318 L443.34 318 L444.61 318 L445.88 318 L447.15 318 L448.42 318 L449.69 318 L450.96 318 L452.23 318 L453.5 318 L454.77 318 L456.04 318 L457.31 318 L458.58 318 L459.85 318 L461.12 318 L462.39 318 L463.65 318 L464.92 318 L466.19 318 L467.46 318 L468.73 318 L470 318 L471.27 318 L472.54 318 L473.81 318 L475.08 318 L476.35 318 L477.62 318 L478.89 318 L480.16 318 L481.43 318 L482.7 318 L483.97 318 L485.24 318 L486.51 318 L487.78 318 L489.05 318 L490.32 318 L491.59 318 L492.86 318 L494.13 318 L495.4 318 L496.67 318 L497.93 318 L499.2 318 L500.47 318 L501.74 318 L503.01 318 L504.28 318 L505.55 318 L506.82 318 L508.09 318 L509.36 318 L510.63 318 L511.9 318 L513.17 318 L514.44 318 L515.71 318 L516.98 318 L518.25 318 L519.52 318 L520.79 318 L522.06 318 L523.33 318 L524.6 318 L525.87 318 L527.14 318 L528.41 318 L529.68 318 L530.94 318 L532.21 318 L533.48 318 L534.75 318 L536.02 318 L537.29 318 L538.56 318 L539.83 318 L541.1 318 L542.37 318 L543.64 318 L544.91 318 L546.18 318 L547.45 318 L548.72 318 L549.99 318 L551.26 318 L552.53 318 L553.8 318 L555.07 318 L556.34 318 L557.61 318 L558.88 318 L560.15 318 L561.42 318 L562.69 318 L563.96 318 L565.22 318 L566.49 318 L567.76 318 L569.03 318 L570.3 318 L571.57 318 L572.84 318 L574.11 318 L575.38 318 L576.65 318 L577.92 318 L579.19 318 L580.46 318 L581.73 318 L583 318 L584.27 318 L585.54 318 L586.81 318 L588.08 318 L589.35 318 L590.62 318 L591.89 318 L593.16 318 L594.43 318 L595.7 318 L596.97 318 L598.24 318 L599.5 318 L600.77 318 L602.04 318 L603.31 318 L604.58 318 L605.85 318 L607.12 318 L608.39 318 L609.66 318 L610.93 318 L612.2 318 L613.47 318 L614.74 318 L616.01 318 L617.28 318 L618.55 318 L619.82 318 L621.09 318 L622.36 318 L623.63 318 L624.9 318.01 L626.17 318.01 L627.44 318.01 L628.71 318.01 L629.98 318.01 L631.25 318.01 L632.51 318.01 L633.78 318.01 L635.05 318.02 L636.32 318.02 L637.59 318.02 L638.86 318.03 L640.13 318.03 L641.4 318.03 L642.67 318.04 L643.94 318.05 L645.21 318.05 L646.48 318.06 L647.75 318.07 L649.02 318.08 L650.29 318.09 L651.56 318.11 L652.83 318.13 L654.1 318.15 L655.37 318.17 L656.64 318.2 L657.91 318.23 L659.18 318.26 L660.45 318.3 L661.72 318.35 L662.99 318.4 L664.26 318.47 L665.53 318.54 L666.79 318.62 L668.06 318.72 L669.33 318.84 L670.6 318.97 L671.87 319.12 L673.14 319.29 L674.41 319.49 L675.68 319.72 L676.95 319.99 L678.22 320.3 L679.49 320.66 L680.76 321.08 L682.03 321.56 L683.3 322.11" fill="none" stroke="#000000" stroke-width="1.75" stroke-linecap="square"/>
<path d="M180.53 250.68 L181.8 260.56 L183.07 268.99 L184.34 276.18 L185.61 282.32 L186.88 287.56 L188.15 292.02 L189.42 295.84 L190.69 299.09 L191.96 301.87 L193.22 304.23 L194.49 306.25 L195.76 307.98 L197.03 309.45 L198.3 310.7 L199.57 311.77 L200.84 312.69 L202.11 313.47 L203.38 314.13 L204.65 314.7 L205.92 315.18 L207.19 315.6 L208.46 315.95 L209.73 316.25 L211 316.51 L212.27 316.73 L213.54 316.91 L214.81 317.07 L216.08 317.21 L217.35 317.33 L218.62 317.42 L219.89 317.51 L221.16 317.58 L222.43 317.64 L223.7 317.69 L224.97 317.74 L226.23 317.78 L227.5 317.81 L228.77 317.84 L230.04 317.86 L231.31 317.88 L232.58 317.9 L233.85 317.91 L235.12 317.93 L236.39 317.94 L237.66 317.95 L238.93 317.95 L240.2 317.96 L241.47 317.97 L242.74 317.97 L244.01 317.98 L245.28 317.98 L246.55 317.98 L247.82 317.99 L249.09 317.99 L250.36 317.99 L251.63 317.99 L252.9 317.99 L254.17 317.99 L255.44 317.99 L256.71 318 L257.98 318 L259.25 318 L260.51 318 L261.78 318 L263.05 318 L264.32 318 L265.59 318 L266.86 318 L268.13 318 L269.4 318 L270.67 318 L271.94 318 L273.21 318 L274.48 318 L275.75 318 L277.02 318 L278.29 318 L279.56 318 L280.83 318 L282.1 318 L283.37 318 L284.64 318 L285.91 318 L287.18 318 L288.45 318 L289.72 318 L290.99 318 L292.26 318 L293.53 318 L294.79 318 L296.06 318 L297.33 318 L298.6 318 L299.87 318 L301.14 318 L302.41 318 L303.68 318 L304.95 318 L306.22 318 L307.49 318 L308.76 318 L310.03 318 L311.3 318 L312.57 318 L313.84 318 L315.11 318 L316.38 318 L317.65 318 L318.92 318 L320.19 318 L321.46 318 L322.73 318 L324 318 L325.27 318 L326.54 318 L327.8 318 L329.07 318 L330.34 318 L331.61 318 L332.88 318 L334.15 318 L335.42 318 L336.69 318 L337.96 318 L339.23 318 L340.5 318 L341.77 318 L343.04 318 L344.31 318 L345.58 318 L346.85 318 L348.12 318 L349.39 318 L350.66 318 L351.93 318 L353.2 318 L354.47 318 L355.74 318 L357.01 318 L358.28 318 L359.55 318 L360.82 318 L362.08 318 L363.35 318 L364.62 318 L365.89 318 L367.16 318 L368.43 318 L369.7 318 L370.97 318 L372.24 318 L373.51 318 L374.78 318 L376.05 318 L377.32 318 L378.59 318 L379.86 318 L381.13 318 L382.4 318 L383.67 318 L384.94 318 L386.21 318 L387.48 318 L388.75 318 L390.02 318 L391.29 318 L392.56 318 L393.83 318 L395.1 318 L396.36 318 L397.63 318 L398.9 318 L400.17 318 L401.44 318 L402.71 318 L403.98 318 L405.25 318 L406.52 318 L407.79 318 L409.06 318 L410.33 318 L411.6 318 L412.87 318 L414.14 318 L415.41 318 L416.68 318 L417.95 318 L419.22 318 L420.49 318 L421.76 318 L423.03 318 L424.3 318 L425.57 318 L426.84 318 L428.11 318 L429.38 318 L430.64 318 L431.91 318 L433.18 318 L434.45 318 L435.72 318 L436.99 318 L438.26 318 L439.53 318 L440.8 318 L442.07 318 L443.34 318 L444.61 318 L445.88 318 L447.15 318 L448.42 318 L449.69 318 L450.96 318 L452.23 318 L453.5 318 L454.77 318 L456.04 318 L457.31 318 L458.58 318 L459.85 318 L461.12 318 L462.39 318 L463.65 318 L464.92 318 L466.19 318 L467.46 318 L468.73 318 L470 318 L471.27 318 L472.54 318 L473.81 318 L475.08 318 L476.35 318 L477.62 318 L478.89 318 L480.16 318 L481.43 318 L482.7 318 L483.97 318 L485.24 318 L486.51 318 L487.78 318 L489.05 318 L490.32 318 L491.59 318 L492.86 318 L494.13 318 L495.4 318 L496.67 318 L497.93 318 L499.2 318 L500.47 318 L501.74 318 L503.01 318 L504.28 318 L505.55 318 L506.82 318 L508.09 318 L509.36 318 L510.63 318 L511.9 318 L513.17 318 L514.44 318 L515.71 318 L516.98 318 L518.25 318 L519.52 318 L520.79 318 L522.06 318 L523.33 318 L524.6 318 L525.87 318 L527.14 318 L528.41 318 L529.68 318 L530.94 318 L532.21 318 L533.48 318 L534.75 318 L536.02 318 L537.29 318 L538.56 318 L539.83 318 L541.1 318 L542.37 318 L543.64 318 L544.91 318 L546.18 318 L547.45 318 L548.72 318 L549.99 318 L551.26 318 L552.53 318 L553.8 318 L555.07 318 L556.34 318 L557.61 318 L558.88 318 L560.15 318 L561.42 318 L562.69 318 L563.96 318 L565.22 318 L566.49 318 L567.76 318 L569.03 318 L570.3 318 L571.57 318 L572.84 318 L574.11 318 L575.38 318 L576.65 318 L577.92 318 L579.19 318 L580.46 318 L581.73 318 L583 318 L584.27 318 L585.54 318 L586.81 318 L588.08 318 L589.35 318 L590.62 318 L591.89 318 L593.16 318 L594.43 318 L595.7 318 L596.97 318 L598.24 318 L599.5 318 L600.77 318 L602.04 318 L603.31 318 L604.58 318 L605.85 318 L607.12 318 L608.39 318.01 L609.66 318.01 L610.93 318.01 L612.2 318.01 L613.47 318.01 L614.74 318.01 L616.01 318.01 L617.28 318.02 L618.55 318.02 L619.82 318.02 L621.09 318.03 L622.36 318.03 L623.63 318.04 L624.9 318.05 L626.17 318.05 L627.44 318.06 L628.71 318.07 L629.98 318.09 L631.25 318.1 L632.51 318.12 L633.78 318.14 L635.05 318.16 L636.32 318.19 L637.59 318.22 L638.86 318.26 L640.13 318.31 L641.4 318.36 L642.67 318.42 L643.94 318.49 L645.21 318.58 L646.48 318.67 L647.75 318.79 L649.02 318.93 L650.29 319.09 L651.56 319.27 L652.83 319.49 L654.1 319.75 L655.37 320.05 L656.64 320.4 L657.91 320.82 L659.18 321.3 L660.45 321.87 L661.72 322.53 L662.99 323.31 L664.26 324.23 L665.53 325.3 L666.79 326.55 L668.06 328.02 L669.33 329.75 L670.6 331.77 L671.87 334.13 L673.14 336.91 L674.41 340.16 L675.68 343.98 L676.95 348.44 L678.22 353.68 L679.49 359.82 L680.76 367.01 L682.03 375.44 L683.3 385.32" fill="none" stroke="#000000" stroke-width="3.5" stroke-linecap="square"/>
<path d="M180.53 98 L181.8 98.01 L183.07 98.03 L184.34 98.06 L185.61 98.11 L186.88 98.17 L188.15 98.25 L189.42 98.34 L190.69 98.44 L191.96 98.56 L193.22 98.69 L194.49 98.84 L195.76 99 L197.03 99.17 L198.3 99.36 L199.57 99.56 L200.84 99.77 L202.11 100 L203.38 100.24 L204.65 100.49 L205.92 100.76 L207.19 101.05 L208.46 101.34 L209.73 101.65 L211 101.98 L212.27 102.31 L213.54 102.66 L214.81 103.03 L216.08 103.41 L217.35 103.8 L218.62 104.2 L219.89 104.62 L221.16 105.05 L222.43 105.5 L223.7 105.95 L224.97 106.43 L226.23 106.91 L227.5 107.41 L228.77 107.92 L230.04 108.45 L231.31 108.98 L232.58 109.54 L233.85 110.1 L235.12 110.68 L236.39 111.27 L237.66 111.87 L238.93 112.49 L240.2 113.12 L241.47 113.76 L242.74 114.41 L244.01 115.08 L245.28 115.76 L246.55 116.46 L247.82 117.16 L249.09 117.88 L250.36 118.61 L251.63 119.36 L252.9 120.11 L254.17 120.88 L255.44 121.66 L256.71 122.46 L257.98 123.26 L259.25 124.08 L260.51 124.91 L261.78 125.75 L263.05 126.61 L264.32 127.47 L265.59 128.35 L266.86 129.24 L268.13 130.15 L269.4 131.06 L270.67 131.99 L271.94 132.92 L273.21 133.87 L274.48 134.83 L275.75 135.81 L277.02 136.79 L278.29 137.79 L279.56 138.79 L280.83 139.81 L282.1 140.84 L283.37 141.88 L284.64 142.93 L285.91 143.99 L287.18 145.07 L288.45 146.15 L289.72 147.25 L290.99 148.35 L292.26 149.47 L293.53 150.6 L294.79 151.74 L296.06 152.88 L297.33 154.04 L298.6 155.21 L299.87 156.39 L301.14 157.58 L302.41 158.78 L303.68 159.99 L304.95 161.21 L306.22 162.44 L307.49 163.68 L308.76 164.92 L310.03 166.18 L311.3 167.45 L312.57 168.73 L313.84 170.01 L315.11 171.31 L316.38 172.62 L317.65 173.93 L318.92 175.25 L320.19 176.59 L321.46 177.93 L322.73 179.28 L324 180.64 L325.27 182.01 L326.54 183.38 L327.8 184.77 L329.07 186.16 L330.34 187.56 L331.61 188.97 L332.88 190.39 L334.15 191.81 L335.42 193.25 L336.69 194.69 L337.96 196.14 L339.23 197.59 L340.5 199.06 L341.77 200.53 L343.04 202.01 L344.31 203.5 L345.58 204.99 L346.85 206.49 L348.12 208 L349.39 209.51 L350.66 211.04 L351.93 212.57 L353.2 214.1 L354.47 215.64 L355.74 217.19 L357.01 218.74 L358.28 220.31 L359.55 221.87 L360.82 223.45 L362.08 225.02 L363.35 226.61 L364.62 228.2 L365.89 229.8 L367.16 231.4 L368.43 233 L369.7 234.62 L370.97 236.23 L372.24 237.86 L373.51 239.49 L374.78 241.12 L376.05 242.76 L377.32 244.4 L378.59 246.05 L379.86 247.7 L381.13 249.35 L382.4 251.01 L383.67 252.68 L384.94 254.35 L386.21 256.02 L387.48 257.7 L388.75 259.38 L390.02 261.06 L391.29 262.75 L392.56 264.44 L393.83 266.13 L395.1 267.83 L396.36 269.53 L397.63 271.24 L398.9 272.94 L400.17 274.65 L401.44 276.36 L402.71 278.08 L403.98 279.8 L405.25 281.52 L406.52 283.24 L407.79 284.96 L409.06 286.69 L410.33 288.42 L411.6 290.15 L412.87 291.88 L414.14 293.62 L415.41 295.35 L416.68 297.09 L417.95 298.83 L419.22 300.57 L420.49 302.31 L421.76 304.05 L423.03 305.79 L424.3 307.53 L425.57 309.28 L426.84 311.02 L428.11 312.76 L429.38 314.51 L430.64 316.25 L431.91 318 L433.18 319.75 L434.45 321.49 L435.72 323.24 L436.99 324.98 L438.26 326.72 L439.53 328.47 L440.8 330.21 L442.07 331.95 L443.34 333.69 L444.61 335.43 L445.88 337.17 L447.15 338.91 L448.42 340.65 L449.69 342.38 L450.96 344.12 L452.23 345.85 L453.5 347.58 L454.77 349.31 L456.04 351.04 L457.31 352.76 L458.58 354.48 L459.85 356.2 L461.12 357.92 L462.39 359.64 L463.65 361.35 L464.92 363.06 L466.19 364.76 L467.46 366.47 L468.73 368.17 L470 369.87 L471.27 371.56 L472.54 373.25 L473.81 374.94 L475.08 376.62 L476.35 378.3 L477.62 379.98 L478.89 381.65 L480.16 383.32 L481.43 384.99 L482.7 386.65 L483.97 388.3 L485.24 389.95 L486.51 391.6 L487.78 393.24 L489.05 394.88 L490.32 396.51 L491.59 398.14 L492.86 399.77 L494.13 401.38 L495.4 403 L496.67 404.6 L497.93 406.2 L499.2 407.8 L500.47 409.39 L501.74 410.98 L503.01 412.55 L504.28 414.13 L505.55 415.69 L506.82 417.26 L508.09 418.81 L509.36 420.36 L510.63 421.9 L511.9 423.43 L513.17 424.96 L514.44 426.49 L515.71 428 L516.98 429.51 L518.25 431.01 L519.52 432.5 L520.79 433.99 L522.06 435.47 L523.33 436.94 L524.6 438.41 L525.87 439.86 L527.14 441.31 L528.41 442.75 L529.68 444.19 L530.94 445.61 L532.21 447.03 L533.48 448.44 L534.75 449.84 L536.02 451.23 L537.29 452.62 L538.56 453.99 L539.83 455.36 L541.1 456.72 L542.37 458.07 L543.64 459.41 L544.91 460.75 L546.18 462.07 L547.45 463.38 L548.72 464.69 L549.99 465.99 L551.26 467.27 L552.53 468.55 L553.8 469.82 L555.07 471.08 L556.34 472.32 L557.61 473.56 L558.88 474.79 L560.15 476.01 L561.42 477.22 L562.69 478.42 L563.96 479.61 L565.22 480.79 L566.49 481.96 L567.76 483.12 L569.03 484.26 L570.3 485.4 L571.57 486.53 L572.84 487.65 L574.11 488.75 L575.38 489.85 L576.65 490.93 L577.92 492.01 L579.19 493.07 L580.46 494.12 L581.73 495.16 L583 496.19 L584.27 497.21 L585.54 498.21 L586.81 499.21 L588.08 500.19 L589.35 501.17 L590.62 502.13 L591.89 503.08 L593.16 504.01 L594.43 504.94 L595.7 505.85 L596.97 506.76 L598.24 507.65 L599.5 508.53 L600.77 509.39 L602.04 510.25 L603.31 511.09 L604.58 511.92 L605.85 512.74 L607.12 513.54 L608.39 514.34 L609.66 515.12 L610.93 515.89 L612.2 516.64 L613.47 517.39 L614.74 518.12 L616.01 518.84 L617.28 519.54 L618.55 520.24 L619.82 520.92 L621.09 521.59 L622.36 522.24 L623.63 522.88 L624.9 523.51 L626.17 524.13 L627.44 524.73 L628.71 525.32 L629.98 525.9 L631.25 526.46 L632.51 527.02 L633.78 527.55 L635.05 528.08 L636.32 528.59 L637.59 529.09 L638.86 529.57 L640.13 530.05 L641.4 530.5 L642.67 530.95 L643.94 531.38 L645.21 531.8 L646.48 532.2 L647.75 532.59 L649.02 532.97 L650.29 533.34 L651.56 533.69 L652.83 534.02 L654.1 534.35 L655.37 534.66 L656.64 534.95 L657.91 535.24 L659.18 535.51 L660.45 535.76 L661.72 536 L662.99 536.23 L664.26 536.44 L665.53 536.64 L666.79 536.83 L668.06 537 L669.33 537.16 L670.6 537.31 L671.87 537.44 L673.14 537.56 L674.41 537.66 L675.68 537.75 L676.95 537.83 L678.22 537.89 L679.49 537.94 L680.76 537.97 L682.03 537.99 L683.3 538" fill="none" stroke="#ff0000" stroke-width="1.7" stroke-linecap="square"/>
<text x="152.3" y="106.5" text-anchor="end" font-size="37.5">1.0</text>
<text x="152.3" y="216.5" text-anchor="end" font-size="37.5">0.5</text>
<text x="152.3" y="326.5" text-anchor="end" font-size="37.5">0.0</text>
<text x="152.3" y="436.5" text-anchor="end" font-size="37.5"><tspan dy="2.3">−</tspan><tspan dy="-2.3" dx="1.2">0.5</tspan></text>
<text x="152.3" y="546.5" text-anchor="end" font-size="37.5"><tspan dy="2.3">−</tspan><tspan dy="-2.3" dx="1.2">1.0</tspan></text>
<text x="175.45" y="586.8" text-anchor="middle" font-size="37.5">0</text>
<text x="277.02" y="586.8" text-anchor="middle" font-size="37.5">20</text>
<text x="378.59" y="586.8" text-anchor="middle" font-size="37.5">40</text>
<text x="480.16" y="586.8" text-anchor="middle" font-size="37.5">60</text>
<text x="581.73" y="586.8" text-anchor="middle" font-size="37.5">80</text>
<text x="683.3" y="586.8" text-anchor="middle" font-size="37.5">100</text>
<text x="429.6" y="650.3" text-anchor="middle" font-size="37.5">j</text>
<text x="641.5" y="141.7" text-anchor="middle" font-size="37.5">(a)</text>
<g transform="translate(37 354.1) rotate(-90)">
<path d="M8.6 -26.3 L0.9 -10.75 L8.6 4.8" fill="none" stroke="#000000" stroke-width="1.75" stroke-linejoin="miter"/>
<g transform="translate(11.4 0) scale(1.16 1)">
<text x="0" y="0" text-anchor="start" font-size="38" font-style="italic">σ</text>
</g>
<text x="39" y="6.8" text-anchor="start" font-size="27.5" font-style="italic">j</text>
<text x="50" y="-14.4" text-anchor="start" font-size="27.5" font-style="italic">z</text>
<path d="M64.2 -26.3 L71.9 -10.75 L64.2 4.8" fill="none" stroke="#000000" stroke-width="1.75" stroke-linejoin="miter"/>
</g>
<line x1="911.36" y1="558.35" x2="911.36" y2="556.15" stroke="#1c1c1c" stroke-width="1.05"/>
<line x1="911.36" y1="92.77" x2="911.36" y2="94.97" stroke="#1c1c1c" stroke-width="1.05"/>
<line x1="940.54" y1="558.35" x2="940.54" y2="556.15" stroke="#1c1c1c" stroke-width="1.05"/>
<line x1="940.54" y1="92.77" x2="940.54" y2="94.97" stroke="#1c1c1c" stroke-width="1.05"/>
<line x1="963.18" y1="558.35" x2="963.18" y2="548.95" stroke="#1c1c1c" stroke-width="1.05"/>
<line x1="963.18" y1="92.77" x2="963.18" y2="102.17" stroke="#1c1c1c" stroke-width="1.05"/>
<line x1="981.68" y1="558.35" x2="981.68" y2="556.15" stroke="#1c1c1c" stroke-width="1.05"/>
<line x1="981.68" y1="92.77" x2="981.68" y2="94.97" stroke="#1c1c1c" stroke-width="1.05"/>
<line x1="997.31" y1="558.35" x2="997.31" y2="556.15" stroke="#1c1c1c" stroke-width="1.05"/>
<line x1="997.31" y1="92.77" x2="997.31" y2="94.97" stroke="#1c1c1c" stroke-width="1.05"/>
<line x1="1010.86" y1="558.35" x2="1010.86" y2="556.15" stroke="#1c1c1c" stroke-width="1.05"/>
<line x1="1010.86" y1="92.77" x2="1010.86" y2="94.97" stroke="#1c1c1c" stroke-width="1.05"/>
<line x1="1022.81" y1="558.35" x2="1022.81" y2="556.15" stroke="#1c1c1c" stroke-width="1.05"/>
<line x1="1022.81" y1="92.77" x2="1022.81" y2="94.97" stroke="#1c1c1c" stroke-width="1.05"/>
<line x1="1033.5" y1="558.35" x2="1033.5" y2="548.95" stroke="#1c1c1c" stroke-width="1.05"/>
<line x1="1033.5" y1="92.77" x2="1033.5" y2="102.17" stroke="#1c1c1c" stroke-width="1.05"/>
<line x1="1103.82" y1="558.35" x2="1103.82" y2="556.15" stroke="#1c1c1c" stroke-width="1.05"/>
<line x1="1103.82" y1="92.77" x2="1103.82" y2="94.97" stroke="#1c1c1c" stroke-width="1.05"/>
<line x1="1144.96" y1="558.35" x2="1144.96" y2="556.15" stroke="#1c1c1c" stroke-width="1.05"/>
<line x1="1144.96" y1="92.77" x2="1144.96" y2="94.97" stroke="#1c1c1c" stroke-width="1.05"/>
<line x1="1174.14" y1="558.35" x2="1174.14" y2="556.15" stroke="#1c1c1c" stroke-width="1.05"/>
<line x1="1174.14" y1="92.77" x2="1174.14" y2="94.97" stroke="#1c1c1c" stroke-width="1.05"/>
<line x1="1196.78" y1="558.35" x2="1196.78" y2="548.95" stroke="#1c1c1c" stroke-width="1.05"/>
<line x1="1196.78" y1="92.77" x2="1196.78" y2="102.17" stroke="#1c1c1c" stroke-width="1.05"/>
<line x1="1215.28" y1="558.35" x2="1215.28" y2="556.15" stroke="#1c1c1c" stroke-width="1.05"/>
<line x1="1215.28" y1="92.77" x2="1215.28" y2="94.97" stroke="#1c1c1c" stroke-width="1.05"/>
<line x1="1230.91" y1="558.35" x2="1230.91" y2="556.15" stroke="#1c1c1c" stroke-width="1.05"/>
<line x1="1230.91" y1="92.77" x2="1230.91" y2="94.97" stroke="#1c1c1c" stroke-width="1.05"/>
<line x1="1244.46" y1="558.35" x2="1244.46" y2="556.15" stroke="#1c1c1c" stroke-width="1.05"/>
<line x1="1244.46" y1="92.77" x2="1244.46" y2="94.97" stroke="#1c1c1c" stroke-width="1.05"/>
<line x1="1256.41" y1="558.35" x2="1256.41" y2="556.15" stroke="#1c1c1c" stroke-width="1.05"/>
<line x1="1256.41" y1="92.77" x2="1256.41" y2="94.97" stroke="#1c1c1c" stroke-width="1.05"/>
<line x1="1267.1" y1="558.35" x2="1267.1" y2="548.95" stroke="#1c1c1c" stroke-width="1.05"/>
<line x1="1267.1" y1="92.77" x2="1267.1" y2="102.17" stroke="#1c1c1c" stroke-width="1.05"/>
<line x1="1337.42" y1="558.35" x2="1337.42" y2="556.15" stroke="#1c1c1c" stroke-width="1.05"/>
<line x1="1337.42" y1="92.77" x2="1337.42" y2="94.97" stroke="#1c1c1c" stroke-width="1.05"/>
<line x1="1378.56" y1="558.35" x2="1378.56" y2="556.15" stroke="#1c1c1c" stroke-width="1.05"/>
<line x1="1378.56" y1="92.77" x2="1378.56" y2="94.97" stroke="#1c1c1c" stroke-width="1.05"/>
<line x1="1407.74" y1="558.35" x2="1407.74" y2="556.15" stroke="#1c1c1c" stroke-width="1.05"/>
<line x1="1407.74" y1="92.77" x2="1407.74" y2="94.97" stroke="#1c1c1c" stroke-width="1.05"/>
<line x1="900.77" y1="524.55" x2="911.12" y2="524.55" stroke="#1c1c1c" stroke-width="1.05"/>
<line x1="1418.14" y1="524.55" x2="1407.79" y2="524.55" stroke="#1c1c1c" stroke-width="1.05"/>
<line x1="900.77" y1="489.2" x2="902.97" y2="489.2" stroke="#1c1c1c" stroke-width="1.05"/>
<line x1="1418.14" y1="489.2" x2="1415.94" y2="489.2" stroke="#1c1c1c" stroke-width="1.05"/>
<line x1="900.77" y1="468.52" x2="902.97" y2="468.52" stroke="#1c1c1c" stroke-width="1.05"/>
<line x1="1418.14" y1="468.52" x2="1415.94" y2="468.52" stroke="#1c1c1c" stroke-width="1.05"/>
<line x1="900.77" y1="453.85" x2="902.97" y2="453.85" stroke="#1c1c1c" stroke-width="1.05"/>
<line x1="1418.14" y1="453.85" x2="1415.94" y2="453.85" stroke="#1c1c1c" stroke-width="1.05"/>
<line x1="900.77" y1="442.47" x2="902.97" y2="442.47" stroke="#1c1c1c" stroke-width="1.05"/>
<line x1="1418.14" y1="442.47" x2="1415.94" y2="442.47" stroke="#1c1c1c" stroke-width="1.05"/>
<line x1="900.77" y1="433.17" x2="902.97" y2="433.17" stroke="#1c1c1c" stroke-width="1.05"/>
<line x1="1418.14" y1="433.17" x2="1415.94" y2="433.17" stroke="#1c1c1c" stroke-width="1.05"/>
<line x1="900.77" y1="425.31" x2="902.97" y2="425.31" stroke="#1c1c1c" stroke-width="1.05"/>
<line x1="1418.14" y1="425.31" x2="1415.94" y2="425.31" stroke="#1c1c1c" stroke-width="1.05"/>
<line x1="900.77" y1="418.5" x2="902.97" y2="418.5" stroke="#1c1c1c" stroke-width="1.05"/>
<line x1="1418.14" y1="418.5" x2="1415.94" y2="418.5" stroke="#1c1c1c" stroke-width="1.05"/>
<line x1="900.77" y1="412.49" x2="902.97" y2="412.49" stroke="#1c1c1c" stroke-width="1.05"/>
<line x1="1418.14" y1="412.49" x2="1415.94" y2="412.49" stroke="#1c1c1c" stroke-width="1.05"/>
<line x1="900.77" y1="407.12" x2="911.12" y2="407.12" stroke="#1c1c1c" stroke-width="1.05"/>
<line x1="1418.14" y1="407.12" x2="1407.79" y2="407.12" stroke="#1c1c1c" stroke-width="1.05"/>
<line x1="900.77" y1="371.77" x2="902.97" y2="371.77" stroke="#1c1c1c" stroke-width="1.05"/>
<line x1="1418.14" y1="371.77" x2="1415.94" y2="371.77" stroke="#1c1c1c" stroke-width="1.05"/>
<line x1="900.77" y1="351.09" x2="902.97" y2="351.09" stroke="#1c1c1c" stroke-width="1.05"/>
<line x1="1418.14" y1="351.09" x2="1415.94" y2="351.09" stroke="#1c1c1c" stroke-width="1.05"/>
<line x1="900.77" y1="336.42" x2="902.97" y2="336.42" stroke="#1c1c1c" stroke-width="1.05"/>
<line x1="1418.14" y1="336.42" x2="1415.94" y2="336.42" stroke="#1c1c1c" stroke-width="1.05"/>
<line x1="900.77" y1="325.04" x2="902.97" y2="325.04" stroke="#1c1c1c" stroke-width="1.05"/>
<line x1="1418.14" y1="325.04" x2="1415.94" y2="325.04" stroke="#1c1c1c" stroke-width="1.05"/>
<line x1="900.77" y1="315.74" x2="902.97" y2="315.74" stroke="#1c1c1c" stroke-width="1.05"/>
<line x1="1418.14" y1="315.74" x2="1415.94" y2="315.74" stroke="#1c1c1c" stroke-width="1.05"/>
<line x1="900.77" y1="307.88" x2="902.97" y2="307.88" stroke="#1c1c1c" stroke-width="1.05"/>
<line x1="1418.14" y1="307.88" x2="1415.94" y2="307.88" stroke="#1c1c1c" stroke-width="1.05"/>
<line x1="900.77" y1="301.07" x2="902.97" y2="301.07" stroke="#1c1c1c" stroke-width="1.05"/>
<line x1="1418.14" y1="301.07" x2="1415.94" y2="301.07" stroke="#1c1c1c" stroke-width="1.05"/>
<line x1="900.77" y1="295.06" x2="902.97" y2="295.06" stroke="#1c1c1c" stroke-width="1.05"/>
<line x1="1418.14" y1="295.06" x2="1415.94" y2="295.06" stroke="#1c1c1c" stroke-width="1.05"/>
<line x1="900.77" y1="289.69" x2="911.12" y2="289.69" stroke="#1c1c1c" stroke-width="1.05"/>
<line x1="1418.14" y1="289.69" x2="1407.79" y2="289.69" stroke="#1c1c1c" stroke-width="1.05"/>
<line x1="900.77" y1="254.34" x2="902.97" y2="254.34" stroke="#1c1c1c" stroke-width="1.05"/>
<line x1="1418.14" y1="254.34" x2="1415.94" y2="254.34" stroke="#1c1c1c" stroke-width="1.05"/>
<line x1="900.77" y1="233.66" x2="902.97" y2="233.66" stroke="#1c1c1c" stroke-width="1.05"/>
<line x1="1418.14" y1="233.66" x2="1415.94" y2="233.66" stroke="#1c1c1c" stroke-width="1.05"/>
<line x1="900.77" y1="218.99" x2="902.97" y2="218.99" stroke="#1c1c1c" stroke-width="1.05"/>
<line x1="1418.14" y1="218.99" x2="1415.94" y2="218.99" stroke="#1c1c1c" stroke-width="1.05"/>
<line x1="900.77" y1="207.61" x2="902.97" y2="207.61" stroke="#1c1c1c" stroke-width="1.05"/>
<line x1="1418.14" y1="207.61" x2="1415.94" y2="207.61" stroke="#1c1c1c" stroke-width="1.05"/>
<line x1="900.77" y1="198.31" x2="902.97" y2="198.31" stroke="#1c1c1c" stroke-width="1.05"/>
<line x1="1418.14" y1="198.31" x2="1415.94" y2="198.31" stroke="#1c1c1c" stroke-width="1.05"/>
<line x1="900.77" y1="190.45" x2="902.97" y2="190.45" stroke="#1c1c1c" stroke-width="1.05"/>
<line x1="1418.14" y1="190.45" x2="1415.94" y2="190.45" stroke="#1c1c1c" stroke-width="1.05"/>
<line x1="900.77" y1="183.64" x2="902.97" y2="183.64" stroke="#1c1c1c" stroke-width="1.05"/>
<line x1="1418.14" y1="183.64" x2="1415.94" y2="183.64" stroke="#1c1c1c" stroke-width="1.05"/>
<line x1="900.77" y1="177.63" x2="902.97" y2="177.63" stroke="#1c1c1c" stroke-width="1.05"/>
<line x1="1418.14" y1="177.63" x2="1415.94" y2="177.63" stroke="#1c1c1c" stroke-width="1.05"/>
<line x1="900.77" y1="172.26" x2="911.12" y2="172.26" stroke="#1c1c1c" stroke-width="1.05"/>
<line x1="1418.14" y1="172.26" x2="1407.79" y2="172.26" stroke="#1c1c1c" stroke-width="1.05"/>
<line x1="900.77" y1="136.91" x2="902.97" y2="136.91" stroke="#1c1c1c" stroke-width="1.05"/>
<line x1="1418.14" y1="136.91" x2="1415.94" y2="136.91" stroke="#1c1c1c" stroke-width="1.05"/>
<line x1="900.77" y1="116.23" x2="902.97" y2="116.23" stroke="#1c1c1c" stroke-width="1.05"/>
<line x1="1418.14" y1="116.23" x2="1415.94" y2="116.23" stroke="#1c1c1c" stroke-width="1.05"/>
<line x1="900.77" y1="101.56" x2="902.97" y2="101.56" stroke="#1c1c1c" stroke-width="1.05"/>
<line x1="1418.14" y1="101.56" x2="1415.94" y2="101.56" stroke="#1c1c1c" stroke-width="1.05"/>
<rect x="900.77" y="92.77" width="517.37" height="465.58" fill="none" stroke="#404040" stroke-width="1.3"/>
<line x1="1012.25" y1="502.44" x2="1012.25" y2="496.29" stroke="#1c1c1c" stroke-width="1.05"/>
<line x1="1012.25" y1="302.72" x2="1012.25" y2="308.87" stroke="#1c1c1c" stroke-width="1.05"/>
<line x1="1020.98" y1="502.44" x2="1020.98" y2="496.29" stroke="#1c1c1c" stroke-width="1.05"/>
<line x1="1020.98" y1="302.72" x2="1020.98" y2="308.87" stroke="#1c1c1c" stroke-width="1.05"/>
<line x1="1029.71" y1="502.44" x2="1029.71" y2="496.29" stroke="#1c1c1c" stroke-width="1.05"/>
<line x1="1029.71" y1="302.72" x2="1029.71" y2="308.87" stroke="#1c1c1c" stroke-width="1.05"/>
<line x1="1038.44" y1="502.44" x2="1038.44" y2="492.34" stroke="#1c1c1c" stroke-width="1.05"/>
<line x1="1038.44" y1="302.72" x2="1038.44" y2="312.82" stroke="#1c1c1c" stroke-width="1.05"/>
<line x1="1047.17" y1="502.44" x2="1047.17" y2="496.29" stroke="#1c1c1c" stroke-width="1.05"/>
<line x1="1047.17" y1="302.72" x2="1047.17" y2="308.87" stroke="#1c1c1c" stroke-width="1.05"/>
<line x1="1055.9" y1="502.44" x2="1055.9" y2="496.29" stroke="#1c1c1c" stroke-width="1.05"/>
<line x1="1055.9" y1="302.72" x2="1055.9" y2="308.87" stroke="#1c1c1c" stroke-width="1.05"/>
<line x1="1064.63" y1="502.44" x2="1064.63" y2="496.29" stroke="#1c1c1c" stroke-width="1.05"/>
<line x1="1064.63" y1="302.72" x2="1064.63" y2="308.87" stroke="#1c1c1c" stroke-width="1.05"/>
<line x1="1073.35" y1="502.44" x2="1073.35" y2="496.29" stroke="#1c1c1c" stroke-width="1.05"/>
<line x1="1073.35" y1="302.72" x2="1073.35" y2="308.87" stroke="#1c1c1c" stroke-width="1.05"/>
<line x1="1082.08" y1="502.44" x2="1082.08" y2="492.34" stroke="#1c1c1c" stroke-width="1.05"/>
<line x1="1082.08" y1="302.72" x2="1082.08" y2="312.82" stroke="#1c1c1c" stroke-width="1.05"/>
<line x1="1090.81" y1="502.44" x2="1090.81" y2="496.29" stroke="#1c1c1c" stroke-width="1.05"/>
<line x1="1090.81" y1="302.72" x2="1090.81" y2="308.87" stroke="#1c1c1c" stroke-width="1.05"/>
<line x1="1099.54" y1="502.44" x2="1099.54" y2="496.29" stroke="#1c1c1c" stroke-width="1.05"/>
<line x1="1099.54" y1="302.72" x2="1099.54" y2="308.87" stroke="#1c1c1c" stroke-width="1.05"/>
<line x1="1108.27" y1="502.44" x2="1108.27" y2="496.29" stroke="#1c1c1c" stroke-width="1.05"/>
<line x1="1108.27" y1="302.72" x2="1108.27" y2="308.87" stroke="#1c1c1c" stroke-width="1.05"/>
<line x1="1117" y1="502.44" x2="1117" y2="496.29" stroke="#1c1c1c" stroke-width="1.05"/>
<line x1="1117" y1="302.72" x2="1117" y2="308.87" stroke="#1c1c1c" stroke-width="1.05"/>
<line x1="1125.73" y1="502.44" x2="1125.73" y2="492.34" stroke="#1c1c1c" stroke-width="1.05"/>
<line x1="1125.73" y1="302.72" x2="1125.73" y2="312.82" stroke="#1c1c1c" stroke-width="1.05"/>
<line x1="1134.45" y1="502.44" x2="1134.45" y2="496.29" stroke="#1c1c1c" stroke-width="1.05"/>
<line x1="1134.45" y1="302.72" x2="1134.45" y2="308.87" stroke="#1c1c1c" stroke-width="1.05"/>
<line x1="1143.18" y1="502.44" x2="1143.18" y2="496.29" stroke="#1c1c1c" stroke-width="1.05"/>
<line x1="1143.18" y1="302.72" x2="1143.18" y2="308.87" stroke="#1c1c1c" stroke-width="1.05"/>
<line x1="1151.91" y1="502.44" x2="1151.91" y2="496.29" stroke="#1c1c1c" stroke-width="1.05"/>
<line x1="1151.91" y1="302.72" x2="1151.91" y2="308.87" stroke="#1c1c1c" stroke-width="1.05"/>
<line x1="1160.64" y1="502.44" x2="1160.64" y2="496.29" stroke="#1c1c1c" stroke-width="1.05"/>
<line x1="1160.64" y1="302.72" x2="1160.64" y2="308.87" stroke="#1c1c1c" stroke-width="1.05"/>
<line x1="1169.37" y1="502.44" x2="1169.37" y2="492.34" stroke="#1c1c1c" stroke-width="1.05"/>
<line x1="1169.37" y1="302.72" x2="1169.37" y2="312.82" stroke="#1c1c1c" stroke-width="1.05"/>
<line x1="1178.1" y1="502.44" x2="1178.1" y2="496.29" stroke="#1c1c1c" stroke-width="1.05"/>
<line x1="1178.1" y1="302.72" x2="1178.1" y2="308.87" stroke="#1c1c1c" stroke-width="1.05"/>
<line x1="1004.52" y1="330.55" x2="1014.87" y2="330.55" stroke="#1c1c1c" stroke-width="1.05"/>
<line x1="1185.95" y1="330.55" x2="1175.6" y2="330.55" stroke="#1c1c1c" stroke-width="1.05"/>
<line x1="1004.52" y1="361.25" x2="1014.87" y2="361.25" stroke="#1c1c1c" stroke-width="1.05"/>
<line x1="1185.95" y1="361.25" x2="1175.6" y2="361.25" stroke="#1c1c1c" stroke-width="1.05"/>
<line x1="1004.52" y1="391.7" x2="1014.87" y2="391.7" stroke="#1c1c1c" stroke-width="1.05"/>
<line x1="1185.95" y1="391.7" x2="1175.6" y2="391.7" stroke="#1c1c1c" stroke-width="1.05"/>
<line x1="1004.52" y1="422.2" x2="1014.87" y2="422.2" stroke="#1c1c1c" stroke-width="1.05"/>
<line x1="1185.95" y1="422.2" x2="1175.6" y2="422.2" stroke="#1c1c1c" stroke-width="1.05"/>
<line x1="1004.52" y1="452.6" x2="1014.87" y2="452.6" stroke="#1c1c1c" stroke-width="1.05"/>
<line x1="1185.95" y1="452.6" x2="1175.6" y2="452.6" stroke="#1c1c1c" stroke-width="1.05"/>
<line x1="1004.52" y1="483" x2="1014.87" y2="483" stroke="#1c1c1c" stroke-width="1.05"/>
<line x1="1185.95" y1="483" x2="1175.6" y2="483" stroke="#1c1c1c" stroke-width="1.05"/>
<rect x="1004.52" y="302.72" width="181.43" height="199.72" fill="none" stroke="#404040" stroke-width="1.3"/>
<path d="M1007.89 327.7 L1012.25 327.7 L1016.62 328 L1020.98 330.6 L1025.35 340.6 L1029.71 350.2 L1034.08 354.07 L1182.46 497.96" fill="none" stroke="#000000" stroke-width="1.2" stroke-dasharray="12.5 7" stroke-linecap="square"/>
<path d="M1007.89 320.6 L1012.25 320.7 L1016.62 323.5 L1020.98 330.2 L1025.35 336.4 L1029.71 342.5 L1034.08 347.8 L1182.46 491.16" fill="none" stroke="#000000" stroke-width="2.1" stroke-dasharray="12.5 7" stroke-linecap="square"/>
<path d="M1007.89 314.9 L1012.25 317.5 L1016.62 321.6 L1020.98 327.6 L1034.08 341.2 L1182.46 483.66" fill="none" stroke="#000000" stroke-width="3" stroke-dasharray="12.9 6.6" stroke-linecap="square"/>
<line x1="1008" y1="307.2" x2="1182" y2="475.9" stroke="#ff0000" stroke-width="1.7" stroke-linecap="square"/>
<text x="989.4" y="375.8" text-anchor="end" font-size="37.5">10<tspan dx="1.2" dy="-11.4" font-size="26.6">−</tspan><tspan dy="-1.6" font-size="26.6">5</tspan></text>
<text x="989.4" y="406.3" text-anchor="end" font-size="37.5">10<tspan dx="1.2" dy="-11.4" font-size="26.6">−</tspan><tspan dy="-1.6" font-size="26.6">8</tspan></text>
<text x="989.4" y="436.8" text-anchor="end" font-size="37.5">10<tspan dx="1.2" dy="-11.4" font-size="26.6">−</tspan><tspan dy="-1.6" font-size="26.6">11</tspan></text>
<text x="989.4" y="467.3" text-anchor="end" font-size="37.5">10<tspan dx="1.2" dy="-11.4" font-size="26.6">−</tspan><tspan dy="-1.6" font-size="26.6">14</tspan></text>
<text x="989.4" y="497.8" text-anchor="end" font-size="37.5">10<tspan dx="1.2" dy="-11.4" font-size="26.6">−</tspan><tspan dy="-1.6" font-size="26.6">17</tspan></text>
<text x="990.4" y="338.9" text-anchor="end" font-size="37.5">0.01</text>
<text x="1038.74" y="541.5" text-anchor="middle" font-size="37.5">10</text>
<text x="1082.38" y="541.5" text-anchor="middle" font-size="37.5">20</text>
<text x="1126.03" y="541.5" text-anchor="middle" font-size="37.5">30</text>
<text x="1169.67" y="541.5" text-anchor="middle" font-size="37.5">40</text>
<path d="M911.36 108.9 C913.1 109.57 918.24 111.77 921.8 112.9 C925.36 114.03 929.07 114.68 932.7 115.7 C936.33 116.72 939.97 117.72 943.6 119 C947.23 120.28 950.87 121.87 954.5 123.4 C958.13 124.93 961.95 126.57 965.4 128.2 C968.85 129.83 971.92 131.47 975.2 133.2 C978.48 134.93 981.82 136.68 985.1 138.6 C988.38 140.52 991.63 142.52 994.9 144.7 C998.17 146.88 1001.62 149.37 1004.7 151.7 C1007.78 154.03 1010.5 156.33 1013.4 158.7 C1016.3 161.07 1019.18 163.43 1022.1 165.9 C1025.02 168.37 1027.98 170.95 1030.9 173.5 C1033.82 176.05 1036.33 178.22 1039.6 181.2 C1042.87 184.18 1046.77 188.1 1050.5 191.4 C1054.23 194.7 1057.92 197.21 1062 200.98 C1066.08 204.76 1068.67 207.69 1075 214.05 C1081.33 220.42 1079.17 218.24 1100 239.19 C1120.83 260.13 1166.67 306.22 1200 339.73 C1233.33 373.24 1265.38 405.46 1300 440.27 C1334.62 475.08 1389.78 530.54 1407.74 548.59" fill="none" stroke="#0000ff" stroke-width="4.9" stroke-dasharray="1.4 9.95" stroke-linecap="square"/>
<path d="M911.36 173.1 C919.46 173.33 942.99 174 960 174.5 C977.01 175 1002.5 175.72 1013.4 176.1 C1024.3 176.48 1021.4 176.58 1025.4 176.8 C1029.4 177.02 1033.58 177.15 1037.4 177.4 C1041.22 177.65 1044.67 177.93 1048.3 178.3 C1051.93 178.67 1055.57 179.13 1059.2 179.6 C1062.83 180.07 1066.47 180.48 1070.1 181.1 C1073.73 181.72 1077.18 182.38 1081 183.3 C1084.82 184.22 1089.47 185.52 1093 186.6 C1096.53 187.68 1099.02 188.35 1102.2 189.8 C1105.38 191.25 1108.78 193.28 1112.1 195.3 C1115.42 197.32 1118.78 199.68 1122.1 201.9 C1125.42 204.12 1128.88 206.38 1132 208.6 C1135.12 210.82 1137.85 212.82 1140.8 215.2 C1143.75 217.58 1146.75 220.4 1149.7 222.9 C1152.65 225.4 1155.57 227.8 1158.5 230.2 C1161.43 232.6 1164.35 234.95 1167.3 237.3 C1170.25 239.65 1173.25 241.92 1176.2 244.3 C1179.15 246.68 1182.07 249.1 1185 251.6 C1187.93 254.1 1191.05 256.8 1193.8 259.3 C1196.55 261.8 1198.73 264.05 1201.5 266.6 C1204.27 269.15 1207.45 271.95 1210.4 274.6 C1213.35 277.25 1216.27 279.9 1219.2 282.5 C1222.13 285.1 1225.23 287.68 1228 290.2 C1230.77 292.72 1233.03 295.02 1235.8 297.6 C1238.57 300.18 1240.57 301.87 1244.6 305.7 C1248.63 309.53 1254.1 314.86 1260 320.57 C1265.9 326.29 1273.33 333.5 1280 339.98 C1286.67 346.47 1291.67 351.28 1300 359.49 C1308.33 367.7 1318.33 377.64 1330 389.25 C1341.67 400.86 1357.04 416.19 1370 429.17 C1382.96 442.14 1401.45 460.79 1407.74 467.11" fill="none" stroke="#0000ff" stroke-width="3.5" stroke-dasharray="1.4 9.95" stroke-linecap="square"/>
<path d="M911.36 254.4 C926.13 254.42 968.56 254.43 1000 254.5 C1031.44 254.57 1070 254.68 1100 254.8 C1130 254.92 1162.17 255.05 1180 255.2 C1197.83 255.35 1200.57 255.52 1207 255.7 C1213.43 255.88 1214.73 256.02 1218.6 256.3 C1222.47 256.58 1226.4 256.9 1230.2 257.4 C1234 257.9 1237.72 258.43 1241.4 259.3 C1245.08 260.17 1248.82 261.17 1252.3 262.6 C1255.78 264.03 1259.08 265.97 1262.3 267.9 C1265.52 269.83 1268.5 271.98 1271.6 274.2 C1274.7 276.42 1277.8 278.95 1280.9 281.2 C1284 283.45 1287.1 285.45 1290.2 287.7 C1293.3 289.95 1296.52 292.38 1299.5 294.7 C1302.48 297.02 1305.18 299.28 1308.1 301.6 C1311.02 303.92 1314.02 306.27 1317 308.6 C1319.98 310.93 1323.02 313.2 1326 315.6 C1328.98 318 1331.98 320.48 1334.9 323 C1337.82 325.52 1340.6 328.18 1343.5 330.7 C1346.4 333.22 1349.4 335.67 1352.3 338.1 C1355.2 340.53 1358.07 342.82 1360.9 345.3 C1363.73 347.78 1366.47 350.47 1369.3 353 C1372.13 355.53 1375.12 358.02 1377.9 360.5 C1380.68 362.98 1383.1 365.22 1386 367.9 C1388.9 370.58 1391.68 373.24 1395.3 376.6 C1398.92 379.96 1405.67 386.13 1407.74 388.03" fill="none" stroke="#0000ff" stroke-width="2" stroke-dasharray="1.4 9.95" stroke-linecap="square"/>
<path d="M911.36 103.3 L915.36 103.73 L919.36 104.11 L923.36 104.47 L927.36 104.8 L931.36 105.09 L935.36 105.37 L939.36 105.62 L943.36 105.84 L947.36 106.05 L951.36 106.24 L955.36 106.42 L959.36 106.58 L963.36 106.73 L967.36 106.86 L971.36 106.98 L975.36 107.09 L979.36 107.2 L983.36 107.29 L987.36 107.38 L991.36 107.45 L995.36 107.53 L999.36 107.59 L1003.36 107.65 L1007.36 107.71 L1011.36 107.76 L1015.36 107.8 L1019.36 107.85 L1023.36 107.88 L1027.36 107.92 L1031.36 107.95 L1035.36 107.98 L1039.36 108.01 L1043.36 108.03 L1047.36 108.06 L1051.36 108.08 L1055.36 108.1 L1059.36 108.11 L1063.36 108.13 L1067.36 108.14 L1071.36 108.16 L1075.36 108.17 L1079.36 108.18 L1083.36 108.19 L1087.36 108.2 L1091.36 108.21 L1095.36 108.22 L1099.36 108.22 L1103.36 108.23 L1107.36 108.24 L1111.36 108.24 L1115.36 108.25 L1119.36 108.25 L1123.36 108.26 L1127.36 108.26 L1131.36 108.26 L1135.36 108.27 L1139.36 108.27 L1143.36 108.27 L1147.36 108.27 L1407.74 108.3" fill="none" stroke="#000000" stroke-width="3.6" stroke-linecap="square"/>
<line x1="911.36" y1="172.95" x2="1407.74" y2="172.95" stroke="#000000" stroke-width="1.7" stroke-linecap="square"/>
<line x1="911.36" y1="254.35" x2="1407.74" y2="254.35" stroke="#000000" stroke-width="1" stroke-linecap="square"/>
<line x1="963.18" y1="102.23" x2="1407.74" y2="549.19" stroke="#ff0000" stroke-width="1.7" stroke-linecap="square"/>
<line x1="1126.46" y1="184.31" x2="1407.74" y2="467.11" stroke="#ff0000" stroke-width="1.7" stroke-linecap="square"/>
<line x1="1289.74" y1="266.39" x2="1407.74" y2="385.03" stroke="#ff0000" stroke-width="1.7" stroke-linecap="square"/>
<text x="887.3" y="180.76" text-anchor="end" font-size="37.5">0.1</text>
<text x="887.3" y="298.19" text-anchor="end" font-size="37.5">0.01</text>
<text x="887.3" y="415.62" text-anchor="end" font-size="37.5">0.001</text>
<text x="885.9" y="539.9" text-anchor="end" font-size="37.5">10<tspan dx="1.2" dy="-12.2" font-size="26.6">−</tspan><tspan dy="-1.6" font-size="26.6">4</tspan></text>
<text x="962.48" y="596.9" text-anchor="middle" font-size="37.5">5</text>
<text x="1033.4" y="596.9" text-anchor="middle" font-size="37.5">10</text>
<text x="1196.68" y="596.9" text-anchor="middle" font-size="37.5">50</text>
<text x="1267" y="596.9" text-anchor="middle" font-size="37.5">100</text>
<text x="1158.3" y="661.6" text-anchor="middle" font-size="37.5">n</text>
<text x="1366.6" y="147.4" text-anchor="middle" font-size="37.5">(b)</text>
<g transform="translate(765.5 343.9) rotate(-90)">
<path d="M7.9 -24.4 L0.9 -9.4 L7.9 6.1" fill="none" stroke="#000000" stroke-width="1.75" stroke-linejoin="miter"/>
<text x="10.6" y="0" text-anchor="start" font-size="37.5">J</text>
<path d="M28.0 -24.4 L35.5 -9.4 L28.0 6.1" fill="none" stroke="#000000" stroke-width="1.75" stroke-linejoin="miter"/>
</g>
</svg>
</body>
</html>
